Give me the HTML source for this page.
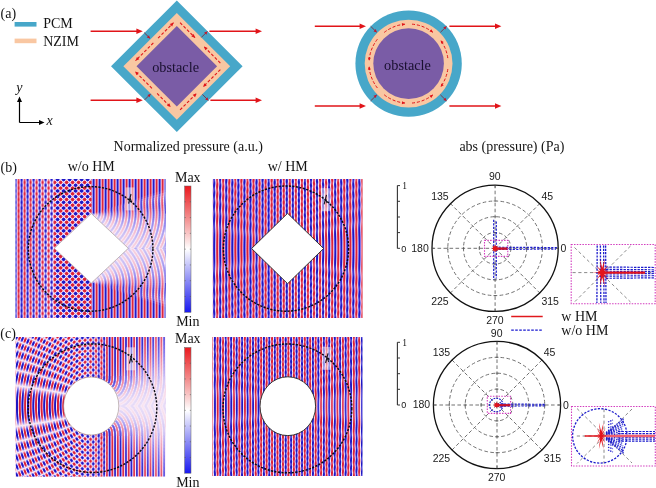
<!DOCTYPE html><html><head><meta charset="utf-8"><style>
html,body{margin:0;padding:0;background:#fff;}
body{width:656px;height:488px;overflow:hidden;position:relative;}
svg{position:absolute;left:0;top:0;will-change:transform;}
.s{font-family:"Liberation Serif",serif;}
.a{font-family:"Liberation Sans",sans-serif;}
</style></head><body>
<svg width="656" height="488" viewBox="0 0 656 488">
<defs>
<linearGradient id="gx1" gradientUnits="userSpaceOnUse" x1="0.60" y1="0" x2="6.60" y2="0" spreadMethod="repeat"><stop offset="0.0000" stop-color="#ffffff"/><stop offset="0.0625" stop-color="#f5f5f5"/><stop offset="0.1250" stop-color="#dadada"/><stop offset="0.1875" stop-color="#b0b0b0"/><stop offset="0.2500" stop-color="#808080"/><stop offset="0.3125" stop-color="#4f4f4f"/><stop offset="0.3750" stop-color="#252525"/><stop offset="0.4375" stop-color="#0a0a0a"/><stop offset="0.5000" stop-color="#000000"/><stop offset="0.5625" stop-color="#0a0a0a"/><stop offset="0.6250" stop-color="#252525"/><stop offset="0.6875" stop-color="#4f4f4f"/><stop offset="0.7500" stop-color="#7f7f7f"/><stop offset="0.8125" stop-color="#b0b0b0"/><stop offset="0.8750" stop-color="#dadada"/><stop offset="0.9375" stop-color="#f5f5f5"/><stop offset="1.0000" stop-color="#ffffff"/></linearGradient><linearGradient id="gx2" gradientUnits="userSpaceOnUse" x1="241.40" y1="0" x2="247.45" y2="0" spreadMethod="repeat"><stop offset="0.0000" stop-color="#ffffff"/><stop offset="0.0625" stop-color="#f5f5f5"/><stop offset="0.1250" stop-color="#dadada"/><stop offset="0.1875" stop-color="#b0b0b0"/><stop offset="0.2500" stop-color="#808080"/><stop offset="0.3125" stop-color="#4f4f4f"/><stop offset="0.3750" stop-color="#252525"/><stop offset="0.4375" stop-color="#0a0a0a"/><stop offset="0.5000" stop-color="#000000"/><stop offset="0.5625" stop-color="#0a0a0a"/><stop offset="0.6250" stop-color="#252525"/><stop offset="0.6875" stop-color="#4f4f4f"/><stop offset="0.7500" stop-color="#7f7f7f"/><stop offset="0.8125" stop-color="#b0b0b0"/><stop offset="0.8750" stop-color="#dadada"/><stop offset="0.9375" stop-color="#f5f5f5"/><stop offset="1.0000" stop-color="#ffffff"/></linearGradient><linearGradient id="gx3" gradientUnits="userSpaceOnUse" x1="3.35" y1="0" x2="8.80" y2="0" spreadMethod="repeat"><stop offset="0.0000" stop-color="#ffffff"/><stop offset="0.0625" stop-color="#f5f5f5"/><stop offset="0.1250" stop-color="#dadada"/><stop offset="0.1875" stop-color="#b0b0b0"/><stop offset="0.2500" stop-color="#808080"/><stop offset="0.3125" stop-color="#4f4f4f"/><stop offset="0.3750" stop-color="#252525"/><stop offset="0.4375" stop-color="#0a0a0a"/><stop offset="0.5000" stop-color="#000000"/><stop offset="0.5625" stop-color="#0a0a0a"/><stop offset="0.6250" stop-color="#252525"/><stop offset="0.6875" stop-color="#4f4f4f"/><stop offset="0.7500" stop-color="#7f7f7f"/><stop offset="0.8125" stop-color="#b0b0b0"/><stop offset="0.8750" stop-color="#dadada"/><stop offset="0.9375" stop-color="#f5f5f5"/><stop offset="1.0000" stop-color="#ffffff"/></linearGradient><linearGradient id="gx4" gradientUnits="userSpaceOnUse" x1="5.00" y1="0" x2="10.45" y2="0" spreadMethod="repeat"><stop offset="0.0000" stop-color="#ffffff"/><stop offset="0.0625" stop-color="#f5f5f5"/><stop offset="0.1250" stop-color="#dadada"/><stop offset="0.1875" stop-color="#b0b0b0"/><stop offset="0.2500" stop-color="#808080"/><stop offset="0.3125" stop-color="#4f4f4f"/><stop offset="0.3750" stop-color="#252525"/><stop offset="0.4375" stop-color="#0a0a0a"/><stop offset="0.5000" stop-color="#000000"/><stop offset="0.5625" stop-color="#0a0a0a"/><stop offset="0.6250" stop-color="#252525"/><stop offset="0.6875" stop-color="#4f4f4f"/><stop offset="0.7500" stop-color="#7f7f7f"/><stop offset="0.8125" stop-color="#b0b0b0"/><stop offset="0.8750" stop-color="#dadada"/><stop offset="0.9375" stop-color="#f5f5f5"/><stop offset="1.0000" stop-color="#ffffff"/></linearGradient><linearGradient id="gy1a" gradientUnits="userSpaceOnUse" x1="0" y1="0.00" x2="0" y2="5.70" spreadMethod="repeat"><stop offset="0.0000" stop-color="#ffffff"/><stop offset="0.0625" stop-color="#f5f5f5"/><stop offset="0.1250" stop-color="#dadada"/><stop offset="0.1875" stop-color="#b0b0b0"/><stop offset="0.2500" stop-color="#808080"/><stop offset="0.3125" stop-color="#4f4f4f"/><stop offset="0.3750" stop-color="#252525"/><stop offset="0.4375" stop-color="#0a0a0a"/><stop offset="0.5000" stop-color="#000000"/><stop offset="0.5625" stop-color="#0a0a0a"/><stop offset="0.6250" stop-color="#252525"/><stop offset="0.6875" stop-color="#4f4f4f"/><stop offset="0.7500" stop-color="#7f7f7f"/><stop offset="0.8125" stop-color="#b0b0b0"/><stop offset="0.8750" stop-color="#dadada"/><stop offset="0.9375" stop-color="#f5f5f5"/><stop offset="1.0000" stop-color="#ffffff"/></linearGradient><linearGradient id="gy1b" gradientUnits="userSpaceOnUse" x1="0" y1="2.00" x2="0" y2="7.70" spreadMethod="repeat"><stop offset="0.0000" stop-color="#ffffff"/><stop offset="0.0625" stop-color="#f5f5f5"/><stop offset="0.1250" stop-color="#dadada"/><stop offset="0.1875" stop-color="#b0b0b0"/><stop offset="0.2500" stop-color="#808080"/><stop offset="0.3125" stop-color="#4f4f4f"/><stop offset="0.3750" stop-color="#252525"/><stop offset="0.4375" stop-color="#0a0a0a"/><stop offset="0.5000" stop-color="#000000"/><stop offset="0.5625" stop-color="#0a0a0a"/><stop offset="0.6250" stop-color="#252525"/><stop offset="0.6875" stop-color="#4f4f4f"/><stop offset="0.7500" stop-color="#7f7f7f"/><stop offset="0.8125" stop-color="#b0b0b0"/><stop offset="0.8750" stop-color="#dadada"/><stop offset="0.9375" stop-color="#f5f5f5"/><stop offset="1.0000" stop-color="#ffffff"/></linearGradient><radialGradient id="gr1t" gradientUnits="userSpaceOnUse" cx="91.30" cy="213.50" r="6.00" spreadMethod="repeat"><stop offset="0.0000" stop-color="#dedede"/><stop offset="0.0625" stop-color="#b6b6b6"/><stop offset="0.1250" stop-color="#868686"/><stop offset="0.1875" stop-color="#555555"/><stop offset="0.2500" stop-color="#2a2a2a"/><stop offset="0.3125" stop-color="#0c0c0c"/><stop offset="0.3750" stop-color="#000000"/><stop offset="0.4375" stop-color="#070707"/><stop offset="0.5000" stop-color="#212121"/><stop offset="0.5625" stop-color="#494949"/><stop offset="0.6250" stop-color="#797979"/><stop offset="0.6875" stop-color="#aaaaaa"/><stop offset="0.7500" stop-color="#d5d5d5"/><stop offset="0.8125" stop-color="#f3f3f3"/><stop offset="0.8750" stop-color="#ffffff"/><stop offset="0.9375" stop-color="#f8f8f8"/><stop offset="1.0000" stop-color="#dedede"/></radialGradient><radialGradient id="gr1b" gradientUnits="userSpaceOnUse" cx="91.30" cy="283.10" r="6.00" spreadMethod="repeat"><stop offset="0.0000" stop-color="#dedede"/><stop offset="0.0625" stop-color="#b6b6b6"/><stop offset="0.1250" stop-color="#868686"/><stop offset="0.1875" stop-color="#555555"/><stop offset="0.2500" stop-color="#2a2a2a"/><stop offset="0.3125" stop-color="#0c0c0c"/><stop offset="0.3750" stop-color="#000000"/><stop offset="0.4375" stop-color="#070707"/><stop offset="0.5000" stop-color="#212121"/><stop offset="0.5625" stop-color="#494949"/><stop offset="0.6250" stop-color="#797979"/><stop offset="0.6875" stop-color="#aaaaaa"/><stop offset="0.7500" stop-color="#d5d5d5"/><stop offset="0.8125" stop-color="#f3f3f3"/><stop offset="0.8750" stop-color="#ffffff"/><stop offset="0.9375" stop-color="#f8f8f8"/><stop offset="1.0000" stop-color="#dedede"/></radialGradient><radialGradient id="gr3c" gradientUnits="userSpaceOnUse" cx="91.20" cy="406.00" r="5.45" spreadMethod="repeat"><stop offset="0.0000" stop-color="#dddddd"/><stop offset="0.0625" stop-color="#f7f7f7"/><stop offset="0.1250" stop-color="#ffffff"/><stop offset="0.1875" stop-color="#f3f3f3"/><stop offset="0.2500" stop-color="#d6d6d6"/><stop offset="0.3125" stop-color="#acacac"/><stop offset="0.3750" stop-color="#7b7b7b"/><stop offset="0.4375" stop-color="#4a4a4a"/><stop offset="0.5000" stop-color="#222222"/><stop offset="0.5625" stop-color="#080808"/><stop offset="0.6250" stop-color="#000000"/><stop offset="0.6875" stop-color="#0c0c0c"/><stop offset="0.7500" stop-color="#292929"/><stop offset="0.8125" stop-color="#535353"/><stop offset="0.8750" stop-color="#848484"/><stop offset="0.9375" stop-color="#b5b5b5"/><stop offset="1.0000" stop-color="#dddddd"/></radialGradient><radialGradient id="gr3t" gradientUnits="userSpaceOnUse" cx="91.20" cy="377.00" r="5.45" spreadMethod="repeat"><stop offset="0.0000" stop-color="#dddddd"/><stop offset="0.0625" stop-color="#b5b5b5"/><stop offset="0.1250" stop-color="#848484"/><stop offset="0.1875" stop-color="#535353"/><stop offset="0.2500" stop-color="#292929"/><stop offset="0.3125" stop-color="#0c0c0c"/><stop offset="0.3750" stop-color="#000000"/><stop offset="0.4375" stop-color="#080808"/><stop offset="0.5000" stop-color="#222222"/><stop offset="0.5625" stop-color="#4a4a4a"/><stop offset="0.6250" stop-color="#7b7b7b"/><stop offset="0.6875" stop-color="#acacac"/><stop offset="0.7500" stop-color="#d6d6d6"/><stop offset="0.8125" stop-color="#f3f3f3"/><stop offset="0.8750" stop-color="#ffffff"/><stop offset="0.9375" stop-color="#f7f7f7"/><stop offset="1.0000" stop-color="#dddddd"/></radialGradient><radialGradient id="gr3b" gradientUnits="userSpaceOnUse" cx="91.20" cy="435.00" r="5.45" spreadMethod="repeat"><stop offset="0.0000" stop-color="#dddddd"/><stop offset="0.0625" stop-color="#b5b5b5"/><stop offset="0.1250" stop-color="#848484"/><stop offset="0.1875" stop-color="#535353"/><stop offset="0.2500" stop-color="#292929"/><stop offset="0.3125" stop-color="#0c0c0c"/><stop offset="0.3750" stop-color="#000000"/><stop offset="0.4375" stop-color="#080808"/><stop offset="0.5000" stop-color="#222222"/><stop offset="0.5625" stop-color="#4a4a4a"/><stop offset="0.6250" stop-color="#7b7b7b"/><stop offset="0.6875" stop-color="#acacac"/><stop offset="0.7500" stop-color="#d6d6d6"/><stop offset="0.8125" stop-color="#f3f3f3"/><stop offset="0.8750" stop-color="#ffffff"/><stop offset="0.9375" stop-color="#f7f7f7"/><stop offset="1.0000" stop-color="#dddddd"/></radialGradient><radialGradient id="gr4c" gradientUnits="userSpaceOnUse" cx="287.80" cy="406.20" r="5.45" spreadMethod="repeat"><stop offset="0.0000" stop-color="#585858"/><stop offset="0.0625" stop-color="#2d2d2d"/><stop offset="0.1250" stop-color="#0e0e0e"/><stop offset="0.1875" stop-color="#000000"/><stop offset="0.2500" stop-color="#060606"/><stop offset="0.3125" stop-color="#1f1f1f"/><stop offset="0.3750" stop-color="#464646"/><stop offset="0.4375" stop-color="#757575"/><stop offset="0.5000" stop-color="#a7a7a7"/><stop offset="0.5625" stop-color="#d2d2d2"/><stop offset="0.6250" stop-color="#f1f1f1"/><stop offset="0.6875" stop-color="#ffffff"/><stop offset="0.7500" stop-color="#f9f9f9"/><stop offset="0.8125" stop-color="#e0e0e0"/><stop offset="0.8750" stop-color="#b9b9b9"/><stop offset="0.9375" stop-color="#8a8a8a"/><stop offset="1.0000" stop-color="#585858"/></radialGradient><radialGradient id="gr2c" gradientUnits="userSpaceOnUse" cx="287.60" cy="248.50" r="6.00" spreadMethod="repeat"><stop offset="0.0000" stop-color="#585858"/><stop offset="0.0625" stop-color="#2d2d2d"/><stop offset="0.1250" stop-color="#0e0e0e"/><stop offset="0.1875" stop-color="#000000"/><stop offset="0.2500" stop-color="#060606"/><stop offset="0.3125" stop-color="#1f1f1f"/><stop offset="0.3750" stop-color="#464646"/><stop offset="0.4375" stop-color="#757575"/><stop offset="0.5000" stop-color="#a7a7a7"/><stop offset="0.5625" stop-color="#d2d2d2"/><stop offset="0.6250" stop-color="#f1f1f1"/><stop offset="0.6875" stop-color="#ffffff"/><stop offset="0.7500" stop-color="#f9f9f9"/><stop offset="0.8125" stop-color="#e0e0e0"/><stop offset="0.8750" stop-color="#b9b9b9"/><stop offset="0.9375" stop-color="#8a8a8a"/><stop offset="1.0000" stop-color="#585858"/></radialGradient><filter id="cm1" filterUnits="userSpaceOnUse" x="15.5" y="179.0" width="150.0" height="139.0" color-interpolation-filters="sRGB"><feComponentTransfer><feFuncR type="table" tableValues="0.118 0.153 0.188 0.223 0.258 0.293 0.328 0.363 0.398 0.433 0.468 0.503 0.539 0.577 0.616 0.654 0.693 0.731 0.769 0.808 0.846 0.884 0.923 0.961 0.979 0.975 0.972 0.969 0.965 0.962 0.959 0.955 0.952 0.949 0.945 0.942 0.936 0.928 0.921 0.914 0.906 0.899 0.892 0.884 0.877 0.870 0.862 0.855"/><feFuncG type="table" tableValues="0.094 0.128 0.162 0.195 0.229 0.263 0.296 0.330 0.364 0.397 0.431 0.465 0.500 0.537 0.575 0.613 0.650 0.688 0.726 0.764 0.801 0.839 0.877 0.914 0.916 0.882 0.847 0.813 0.779 0.744 0.710 0.676 0.641 0.607 0.572 0.538 0.505 0.472 0.439 0.406 0.372 0.339 0.306 0.273 0.240 0.207 0.174 0.141"/><feFuncB type="table" tableValues="0.765 0.779 0.793 0.808 0.822 0.836 0.851 0.865 0.880 0.894 0.908 0.923 0.934 0.938 0.942 0.946 0.950 0.954 0.958 0.962 0.966 0.970 0.974 0.978 0.965 0.935 0.905 0.875 0.845 0.815 0.785 0.755 0.725 0.695 0.665 0.635 0.601 0.567 0.532 0.497 0.463 0.428 0.393 0.358 0.324 0.289 0.254 0.220"/></feComponentTransfer><feGaussianBlur stdDeviation="0.70"/></filter><filter id="cm2" filterUnits="userSpaceOnUse" x="212.5" y="179.0" width="150.0" height="139.0" color-interpolation-filters="sRGB"><feComponentTransfer><feFuncR type="table" tableValues="0.118 0.118 0.118 0.118 0.155 0.196 0.236 0.276 0.317 0.357 0.397 0.437 0.478 0.518 0.561 0.605 0.649 0.693 0.738 0.782 0.826 0.870 0.914 0.958 0.978 0.975 0.971 0.967 0.963 0.959 0.955 0.952 0.948 0.944 0.939 0.930 0.922 0.913 0.905 0.897 0.888 0.880 0.871 0.863 0.855 0.855 0.855 0.855"/><feFuncG type="table" tableValues="0.094 0.094 0.094 0.094 0.130 0.169 0.208 0.247 0.285 0.324 0.363 0.402 0.440 0.479 0.521 0.565 0.608 0.651 0.695 0.738 0.782 0.825 0.868 0.912 0.914 0.874 0.835 0.795 0.755 0.716 0.676 0.637 0.597 0.558 0.519 0.481 0.443 0.405 0.367 0.329 0.291 0.253 0.215 0.177 0.141 0.141 0.141 0.141"/><feFuncB type="table" tableValues="0.765 0.765 0.765 0.765 0.780 0.797 0.813 0.830 0.846 0.863 0.879 0.896 0.912 0.929 0.937 0.941 0.946 0.950 0.955 0.960 0.964 0.969 0.973 0.978 0.963 0.929 0.894 0.859 0.825 0.790 0.756 0.721 0.687 0.652 0.616 0.576 0.536 0.496 0.457 0.417 0.377 0.337 0.297 0.257 0.220 0.220 0.220 0.220"/></feComponentTransfer><feGaussianBlur stdDeviation="0.70"/></filter><filter id="cm3" filterUnits="userSpaceOnUse" x="15.5" y="337.0" width="150.0" height="139.5" color-interpolation-filters="sRGB"><feComponentTransfer><feFuncR type="table" tableValues="0.118 0.153 0.188 0.223 0.258 0.293 0.328 0.363 0.398 0.433 0.468 0.503 0.539 0.577 0.616 0.654 0.693 0.731 0.769 0.808 0.846 0.884 0.923 0.961 0.979 0.975 0.972 0.969 0.965 0.962 0.959 0.955 0.952 0.949 0.945 0.942 0.936 0.928 0.921 0.914 0.906 0.899 0.892 0.884 0.877 0.870 0.862 0.855"/><feFuncG type="table" tableValues="0.094 0.128 0.162 0.195 0.229 0.263 0.296 0.330 0.364 0.397 0.431 0.465 0.500 0.537 0.575 0.613 0.650 0.688 0.726 0.764 0.801 0.839 0.877 0.914 0.916 0.882 0.847 0.813 0.779 0.744 0.710 0.676 0.641 0.607 0.572 0.538 0.505 0.472 0.439 0.406 0.372 0.339 0.306 0.273 0.240 0.207 0.174 0.141"/><feFuncB type="table" tableValues="0.765 0.779 0.793 0.808 0.822 0.836 0.851 0.865 0.880 0.894 0.908 0.923 0.934 0.938 0.942 0.946 0.950 0.954 0.958 0.962 0.966 0.970 0.974 0.978 0.965 0.935 0.905 0.875 0.845 0.815 0.785 0.755 0.725 0.695 0.665 0.635 0.601 0.567 0.532 0.497 0.463 0.428 0.393 0.358 0.324 0.289 0.254 0.220"/></feComponentTransfer><feGaussianBlur stdDeviation="0.70"/></filter><filter id="cm4" filterUnits="userSpaceOnUse" x="212.5" y="337.0" width="150.0" height="139.0" color-interpolation-filters="sRGB"><feComponentTransfer><feFuncR type="table" tableValues="0.118 0.118 0.118 0.118 0.121 0.163 0.205 0.247 0.289 0.331 0.373 0.416 0.458 0.500 0.543 0.589 0.635 0.681 0.727 0.773 0.819 0.865 0.911 0.957 0.978 0.974 0.970 0.966 0.962 0.958 0.954 0.950 0.946 0.942 0.935 0.926 0.917 0.909 0.900 0.891 0.882 0.873 0.864 0.856 0.855 0.855 0.855 0.855"/><feFuncG type="table" tableValues="0.094 0.094 0.094 0.094 0.097 0.138 0.178 0.219 0.259 0.300 0.340 0.381 0.421 0.462 0.503 0.549 0.594 0.639 0.684 0.730 0.775 0.820 0.865 0.911 0.913 0.871 0.830 0.789 0.748 0.706 0.665 0.624 0.583 0.541 0.501 0.462 0.422 0.382 0.343 0.303 0.263 0.224 0.184 0.144 0.141 0.141 0.141 0.141"/><feFuncB type="table" tableValues="0.765 0.765 0.765 0.765 0.766 0.783 0.801 0.818 0.835 0.852 0.869 0.887 0.904 0.921 0.935 0.940 0.944 0.949 0.954 0.959 0.964 0.968 0.973 0.978 0.962 0.926 0.890 0.854 0.818 0.782 0.746 0.710 0.674 0.638 0.598 0.556 0.515 0.473 0.431 0.390 0.348 0.306 0.265 0.223 0.220 0.220 0.220 0.220"/></feComponentTransfer><feGaussianBlur stdDeviation="0.70"/></filter><filter id="cm3h" filterUnits="userSpaceOnUse" x="15.5" y="337.0" width="150.0" height="139.5" color-interpolation-filters="sRGB"><feComponentTransfer><feFuncR type="table" tableValues="0.118 0.118 0.118 0.118 0.118 0.131 0.175 0.218 0.262 0.306 0.350 0.394 0.437 0.481 0.525 0.573 0.621 0.669 0.717 0.764 0.812 0.860 0.908 0.956 0.978 0.974 0.970 0.966 0.962 0.957 0.953 0.949 0.945 0.940 0.931 0.922 0.913 0.904 0.894 0.885 0.876 0.867 0.858 0.855 0.855 0.855 0.855 0.855"/><feFuncG type="table" tableValues="0.094 0.094 0.094 0.094 0.094 0.107 0.149 0.191 0.233 0.275 0.317 0.360 0.402 0.444 0.486 0.533 0.580 0.627 0.674 0.721 0.768 0.815 0.863 0.910 0.912 0.869 0.826 0.783 0.740 0.697 0.654 0.611 0.568 0.525 0.484 0.443 0.401 0.360 0.319 0.277 0.236 0.195 0.154 0.141 0.141 0.141 0.141 0.141"/><feFuncB type="table" tableValues="0.765 0.765 0.765 0.765 0.765 0.770 0.788 0.806 0.824 0.842 0.860 0.878 0.896 0.914 0.932 0.938 0.943 0.948 0.953 0.958 0.963 0.968 0.973 0.978 0.962 0.924 0.887 0.849 0.811 0.774 0.736 0.699 0.661 0.623 0.580 0.536 0.493 0.450 0.406 0.363 0.319 0.276 0.233 0.220 0.220 0.220 0.220 0.220"/></feComponentTransfer><feGaussianBlur stdDeviation="0.70"/></filter><filter id="cmc" filterUnits="userSpaceOnUse" x="15.5" y="179.0" width="150.0" height="139.0" color-interpolation-filters="sRGB"><feComponentTransfer><feFuncR type="table" tableValues="0.118 0.118 0.118 0.118 0.118 0.118 0.118 0.118 0.118 0.118 0.137 0.196 0.256 0.316 0.375 0.435 0.494 0.556 0.622 0.687 0.752 0.817 0.883 0.948 0.978 0.972 0.966 0.961 0.955 0.949 0.944 0.934 0.921 0.909 0.896 0.884 0.871 0.859 0.855 0.855 0.855 0.855 0.855 0.855 0.855 0.855 0.855 0.855"/><feFuncG type="table" tableValues="0.094 0.094 0.094 0.094 0.094 0.094 0.094 0.094 0.094 0.094 0.113 0.170 0.227 0.285 0.342 0.399 0.456 0.517 0.581 0.645 0.709 0.773 0.837 0.901 0.904 0.846 0.787 0.729 0.670 0.612 0.553 0.496 0.440 0.384 0.328 0.272 0.216 0.159 0.141 0.141 0.141 0.141 0.141 0.141 0.141 0.141 0.141 0.141"/><feFuncB type="table" tableValues="0.765 0.765 0.765 0.765 0.765 0.765 0.765 0.765 0.765 0.765 0.773 0.797 0.821 0.846 0.870 0.895 0.919 0.936 0.943 0.950 0.957 0.963 0.970 0.977 0.955 0.904 0.853 0.802 0.751 0.700 0.648 0.593 0.534 0.475 0.416 0.357 0.298 0.239 0.220 0.220 0.220 0.220 0.220 0.220 0.220 0.220 0.220 0.220"/></feComponentTransfer><feGaussianBlur stdDeviation="0.70"/></filter><linearGradient id="gcb" x1="0" y1="0" x2="0" y2="1"><stop offset="0.000" stop-color="#eb191e"/><stop offset="0.050" stop-color="#ec3034"/><stop offset="0.100" stop-color="#ee474a"/><stop offset="0.150" stop-color="#ef5e60"/><stop offset="0.200" stop-color="#f17576"/><stop offset="0.250" stop-color="#f28c8c"/><stop offset="0.300" stop-color="#f5a3a3"/><stop offset="0.350" stop-color="#f7baba"/><stop offset="0.400" stop-color="#fad1d1"/><stop offset="0.450" stop-color="#fce8e8"/><stop offset="0.500" stop-color="#ffffff"/><stop offset="0.550" stop-color="#e8e8fd"/><stop offset="0.600" stop-color="#d1d1fb"/><stop offset="0.650" stop-color="#babaf9"/><stop offset="0.700" stop-color="#a3a3f7"/><stop offset="0.750" stop-color="#8c8cf5"/><stop offset="0.800" stop-color="#7575f4"/><stop offset="0.850" stop-color="#5e5ef3"/><stop offset="0.900" stop-color="#4747f2"/><stop offset="0.950" stop-color="#3030f1"/><stop offset="1.000" stop-color="#1919f0"/></linearGradient><linearGradient id="fadeL" gradientUnits="userSpaceOnUse" x1="15" y1="0" x2="56" y2="0"><stop offset="0" stop-color="#333"/><stop offset="1" stop-color="#fff"/></linearGradient><mask id="mL" maskUnits="userSpaceOnUse" x="0" y="0" width="656" height="488"><rect x="15" y="179" width="41" height="139" fill="url(#fadeL)"/></mask><clipPath id="c1up"><polygon points="91.30,213.50 165.50,213.50 165.50,248.30 128.30,248.30"/></clipPath><clipPath id="c1dn"><polygon points="91.30,283.10 165.50,283.10 165.50,248.30 128.30,248.30"/></clipPath><clipPath id="c1chk"><rect x="54.30" y="179.00" width="37.00" height="139.00"/></clipPath><clipPath id="c3up"><polygon points="91.20,376.00 166.50,376.00 166.50,406.00 118.80,406.00"/></clipPath><clipPath id="c3dn"><polygon points="91.20,436.00 166.50,436.00 166.50,406.00 118.80,406.00"/></clipPath><linearGradient id="fade3" gradientUnits="userSpaceOnUse" x1="78.2" y1="0" x2="108.2" y2="0"><stop offset="0" stop-color="#fff"/><stop offset="1" stop-color="#000"/></linearGradient><mask id="m3" maskUnits="userSpaceOnUse" x="0" y="0" width="656" height="488"><rect x="15.50" y="337.00" width="150.00" height="139.50" fill="url(#fade3)"/></mask><clipPath id="h1u"><rect x="15.50" y="179.00" width="150.00" height="69.30"/></clipPath><clipPath id="h1d"><rect x="15.50" y="248.30" width="150.00" height="69.70"/></clipPath><clipPath id="h3u"><rect x="15.50" y="337.00" width="150.00" height="69.00"/></clipPath><clipPath id="h3d"><rect x="15.50" y="406.00" width="150.00" height="70.50"/></clipPath></defs>
<g filter="url(#cm1)"><rect x="15.5" y="179.0" width="150.0" height="139.0" fill="url(#gx1)"/><rect x="15" y="179.0" width="41" height="139.0" fill="url(#gy1a)" opacity="0.32" mask="url(#mL)"/><g clip-path="url(#c1up)"><rect x="15.5" y="179.0" width="150.0" height="139.0" fill="url(#gr1t)"/></g><g clip-path="url(#c1dn)"><rect x="15.5" y="179.0" width="150.0" height="139.0" fill="url(#gr1b)"/></g><g clip-path="url(#h1u)"><polygon points="91.30,213.50 281.51,151.70 288.84,182.21 291.30,213.50" fill="url(#gr1t)" fill-opacity="0.050"/><polygon points="91.30,213.50 283.55,158.37 289.35,185.67 291.30,213.50" fill="url(#gr1t)" fill-opacity="0.105"/><polygon points="91.30,213.50 285.36,165.12 289.81,189.13 291.30,213.50" fill="url(#gr1t)" fill-opacity="0.118"/><polygon points="91.30,213.50 286.93,171.92 290.20,192.59 291.30,213.50" fill="url(#gr1t)" fill-opacity="0.133"/><polygon points="91.30,213.50 288.26,178.77 290.54,196.07 291.30,213.50" fill="url(#gr1t)" fill-opacity="0.154"/><polygon points="91.30,213.50 289.35,185.67 291.30,213.50" fill="url(#gr1t)" fill-opacity="0.242"/><polygon points="91.30,213.50 290.20,192.59 291.30,213.50" fill="url(#gr1t)" fill-opacity="0.320"/><polygon points="91.30,213.50 290.81,199.55 291.30,213.50" fill="url(#gr1t)" fill-opacity="0.471"/><polygon points="91.30,213.50 291.18,206.52 291.30,213.50" fill="url(#gr1t)" fill-opacity="0.662"/></g><g clip-path="url(#h1d)"><polygon points="91.30,283.10 281.51,344.90 288.84,314.39 291.30,283.10" fill="url(#gr1b)" fill-opacity="0.050"/><polygon points="91.30,283.10 283.55,338.23 289.35,310.93 291.30,283.10" fill="url(#gr1b)" fill-opacity="0.105"/><polygon points="91.30,283.10 285.36,331.48 289.81,307.47 291.30,283.10" fill="url(#gr1b)" fill-opacity="0.118"/><polygon points="91.30,283.10 286.93,324.68 290.20,304.01 291.30,283.10" fill="url(#gr1b)" fill-opacity="0.133"/><polygon points="91.30,283.10 288.26,317.83 290.54,300.53 291.30,283.10" fill="url(#gr1b)" fill-opacity="0.154"/><polygon points="91.30,283.10 289.35,310.93 291.30,283.10" fill="url(#gr1b)" fill-opacity="0.242"/><polygon points="91.30,283.10 290.20,304.01 291.30,283.10" fill="url(#gr1b)" fill-opacity="0.320"/><polygon points="91.30,283.10 290.81,297.05 291.30,283.10" fill="url(#gr1b)" fill-opacity="0.471"/><polygon points="91.30,283.10 291.18,290.08 291.30,283.10" fill="url(#gr1b)" fill-opacity="0.662"/></g><g clip-path="url(#h1u)"><polygon points="91.30,213.50 281.51,151.70 289.26,185.04 291.22,219.21 287.32,253.22 277.67,286.06 262.57,316.78 242.45,344.47 217.90,368.33 189.65,387.65 158.51,401.87 125.40,410.57 91.30,413.50" fill="#808080" fill-opacity="0.017"/><polygon points="91.30,213.50 283.55,158.37 290.07,191.33 290.97,224.92 286.25,258.18 276.02,290.18 260.57,320.02 240.35,346.85 215.93,369.92 187.98,388.58 157.31,402.29 124.78,410.68 91.30,413.50" fill="#808080" fill-opacity="0.034"/><polygon points="91.30,213.50 285.36,165.12 290.67,197.65 290.57,230.62 285.05,263.12 274.27,294.27 258.51,323.22 238.22,349.20 213.93,371.49 186.31,389.49 156.11,402.71 124.15,410.78 91.30,413.50" fill="#808080" fill-opacity="0.035"/><polygon points="91.30,213.50 286.93,171.92 291.07,203.98 290.00,236.30 283.73,268.02 272.43,298.31 256.39,326.39 236.05,351.52 211.92,373.04 184.63,390.39 154.91,403.11 123.53,410.89 91.30,413.50" fill="#808080" fill-opacity="0.036"/><polygon points="91.30,213.50 288.26,178.77 291.27,210.33 289.26,241.96 282.28,272.88 270.50,302.31 254.22,329.51 233.84,353.79 209.88,374.55 182.95,391.27 153.71,403.51 122.90,410.99 91.30,413.50" fill="#808080" fill-opacity="0.038"/><polygon points="91.30,213.50 289.35,185.67 291.20,219.78 287.22,253.72 277.51,286.48 262.37,317.11 242.24,344.71 217.71,368.49 189.48,387.74 158.39,401.91 125.34,410.58 91.30,413.50" fill="#808080" fill-opacity="0.039"/><polygon points="91.30,213.50 290.20,192.59 290.91,226.06 286.02,259.17 275.67,291.00 260.17,320.67 239.93,347.33 215.53,370.24 187.65,388.76 157.07,402.38 124.65,410.70 91.30,413.50" fill="#808080" fill-opacity="0.057"/><polygon points="91.30,213.50 290.81,199.55 290.41,232.32 284.66,264.59 273.72,295.48 257.88,324.18 237.57,349.90 213.33,371.96 185.81,389.76 155.75,402.83 123.97,410.81 91.30,413.50" fill="#808080" fill-opacity="0.078"/><polygon points="91.30,213.50 291.18,206.52 289.72,238.57 283.16,269.97 271.67,299.92 255.53,327.64 235.17,352.43 211.10,373.65 183.96,390.74 154.43,403.28 123.28,410.93 91.30,413.50" fill="#808080" fill-opacity="0.085"/><polygon points="91.30,213.50 291.30,213.50 288.84,244.79 281.51,275.30 269.50,304.30 253.10,331.06 232.72,354.92 208.86,375.30 182.10,391.70 153.10,403.71 122.59,411.04 91.30,413.50" fill="#808080" fill-opacity="0.080"/><polygon points="91.30,213.50 291.18,220.48 287.09,254.32 277.31,286.98 262.13,317.50 241.99,345.00 217.47,368.68 189.28,387.86 158.24,401.96 125.27,410.59 91.30,413.50" fill="#808080" fill-opacity="0.074"/><polygon points="91.30,213.50 290.81,227.45 285.73,260.38 275.25,292.00 259.66,321.45 239.41,347.90 215.04,370.62 187.24,388.99 156.78,402.48 124.50,410.73 91.30,413.50" fill="#808080" fill-opacity="0.079"/><polygon points="91.30,213.50 290.20,234.41 284.18,266.39 273.05,296.97 257.11,325.34 236.77,350.75 212.59,372.52 185.19,390.09 155.31,402.98 123.74,410.85 91.30,413.50" fill="#808080" fill-opacity="0.086"/><polygon points="91.30,213.50 289.35,241.33 282.45,272.35 270.72,301.87 254.46,329.17 234.09,353.54 210.11,374.39 183.13,391.17 153.84,403.47 122.97,410.98 91.30,413.50" fill="#808080" fill-opacity="0.094"/><polygon points="91.30,213.50 288.26,248.23 280.53,278.25 268.25,306.71 251.72,332.93 231.34,356.29 207.60,376.21 181.06,392.23 152.37,403.95 122.20,411.10 91.30,413.50" fill="#808080" fill-opacity="0.081"/><polygon points="91.30,213.50 286.93,255.08 277.06,287.61 261.83,318.00 241.67,345.37 217.16,368.93 189.02,388.00 158.06,402.03 125.17,410.61 91.30,413.50" fill="#808080" fill-opacity="0.062"/><polygon points="91.30,213.50 285.36,261.88 274.71,293.25 259.03,322.43 238.76,348.62 214.43,371.10 186.73,389.26 156.41,402.60 124.31,410.76 91.30,413.50" fill="#808080" fill-opacity="0.066"/><polygon points="91.30,213.50 283.55,268.63 272.19,298.81 256.13,326.78 235.77,351.80 211.66,373.23 184.42,390.50 154.76,403.16 123.45,410.90 91.30,413.50" fill="#808080" fill-opacity="0.071"/><polygon points="91.30,213.50 281.51,275.30 269.50,304.30 253.10,331.06 232.72,354.92 208.86,375.30 182.10,391.70 153.10,403.71 122.59,411.04 91.30,413.50" fill="#808080" fill-opacity="0.076"/><polygon points="91.30,213.50 279.24,281.90 266.65,309.70 249.97,335.25 229.60,357.97 206.02,377.33 179.76,392.87 151.44,404.24 121.72,411.17 91.30,413.50" fill="#808080" fill-opacity="0.068"/><polygon points="91.30,213.50 276.74,288.42 261.44,318.64 241.26,345.84 216.78,369.24 188.70,388.18 157.83,402.11 125.05,410.63 91.30,413.50" fill="#808080" fill-opacity="0.059"/><polygon points="91.30,213.50 274.01,294.85 258.21,323.68 237.91,349.53 213.64,371.71 186.07,389.62 155.94,402.77 124.06,410.80 91.30,413.50" fill="#808080" fill-opacity="0.062"/><polygon points="91.30,213.50 271.06,301.17 254.84,328.62 234.47,353.15 210.46,374.12 183.43,391.02 154.05,403.40 123.08,410.96 91.30,413.50" fill="#808080" fill-opacity="0.067"/><polygon points="91.30,213.50 267.89,307.39 251.33,333.46 230.95,356.67 207.24,376.47 180.76,392.38 152.15,404.02 122.09,411.12 91.30,413.50" fill="#808080" fill-opacity="0.071"/><polygon points="91.30,213.50 264.51,313.50 247.67,338.20 227.33,360.11 203.96,378.75 178.08,393.69 150.25,404.61 121.11,411.27 91.30,413.50" fill="#808080" fill-opacity="0.058"/><polygon points="91.30,213.50 260.91,319.48 240.71,346.46 216.26,369.66 188.26,388.42 157.51,402.22 124.88,410.66 91.30,413.50" fill="#808080" fill-opacity="0.041"/><polygon points="91.30,213.50 257.11,325.34 236.77,350.75 212.59,372.52 185.19,390.09 155.31,402.98 123.74,410.85 91.30,413.50" fill="#808080" fill-opacity="0.043"/><polygon points="91.30,213.50 253.10,331.06 232.72,354.92 208.86,375.30 182.10,391.70 153.10,403.71 122.59,411.04 91.30,413.50" fill="#808080" fill-opacity="0.044"/><polygon points="91.30,213.50 248.90,336.63 228.55,358.97 205.06,378.00 178.97,393.26 150.89,404.42 121.44,411.22 91.30,413.50" fill="#808080" fill-opacity="0.047"/><polygon points="91.30,213.50 244.51,342.06 224.26,362.91 201.20,380.60 175.82,394.76 148.66,405.10 120.29,411.39 91.30,413.50" fill="#808080" fill-opacity="0.049"/><polygon points="91.30,213.50 239.93,347.33 215.53,370.24 187.65,388.76 157.07,402.38 124.65,410.70 91.30,413.50" fill="#808080" fill-opacity="0.051"/><polygon points="91.30,213.50 235.17,352.43 211.10,373.65 183.96,390.74 154.43,403.28 123.28,410.93 91.30,413.50" fill="#808080" fill-opacity="0.054"/><polygon points="91.30,213.50 230.23,357.37 206.59,376.93 180.23,392.64 151.77,404.14 121.90,411.15 91.30,413.50" fill="#808080" fill-opacity="0.013"/><polygon points="91.30,213.50 225.13,362.13 201.98,380.08 176.46,394.47 149.11,404.96 120.52,411.35 91.30,413.50" fill="#808080" fill-opacity="0.013"/><polygon points="91.30,213.50 219.86,366.71 197.28,383.11 172.65,396.21 146.43,405.75 119.13,411.55 91.30,413.50" fill="#808080" fill-opacity="0.013"/><polygon points="91.30,213.50 214.43,371.10 186.73,389.26 156.41,402.60 124.31,410.76 91.30,413.50" fill="#808080" fill-opacity="0.013"/><polygon points="91.30,213.50 208.86,375.30 182.10,391.70 153.10,403.71 122.59,411.04 91.30,413.50" fill="#808080" fill-opacity="0.013"/><polygon points="91.30,213.50 203.14,379.31 177.40,394.02 149.77,404.76 120.86,411.30 91.30,413.50" fill="#808080" fill-opacity="0.014"/><polygon points="91.30,213.50 197.28,383.11 172.65,396.21 146.43,405.75 119.13,411.55 91.30,413.50" fill="#808080" fill-opacity="0.014"/><polygon points="91.30,213.50 191.30,386.71 167.84,398.28 143.06,406.69 117.41,411.79 91.30,413.50" fill="#808080" fill-opacity="0.014"/><polygon points="91.30,213.50 185.19,390.09 155.31,402.98 123.74,410.85 91.30,413.50" fill="#808080" fill-opacity="0.014"/><polygon points="91.30,213.50 178.97,393.26 150.89,404.42 121.44,411.22 91.30,413.50" fill="#808080" fill-opacity="0.014"/><polygon points="91.30,213.50 172.65,396.21 146.43,405.75 119.13,411.55 91.30,413.50" fill="#808080" fill-opacity="0.015"/><polygon points="91.30,213.50 166.22,398.94 141.94,406.98 116.83,411.86 91.30,413.50" fill="#808080" fill-opacity="0.015"/><polygon points="91.30,213.50 159.70,401.44 137.42,408.11 114.52,412.15 91.30,413.50" fill="#808080" fill-opacity="0.015"/><polygon points="91.30,213.50 153.10,403.71 122.59,411.04 91.30,413.50" fill="#808080" fill-opacity="0.015"/><polygon points="91.30,213.50 146.43,405.75 119.13,411.55 91.30,413.50" fill="#808080" fill-opacity="0.015"/><polygon points="91.30,213.50 139.68,407.56 115.67,412.01 91.30,413.50" fill="#808080" fill-opacity="0.016"/><polygon points="91.30,213.50 132.88,409.13 112.21,412.40 91.30,413.50" fill="#808080" fill-opacity="0.016"/><polygon points="91.30,213.50 126.03,410.46 108.73,412.74 91.30,413.50" fill="#808080" fill-opacity="0.016"/><polygon points="91.30,213.50 119.13,411.55 91.30,413.50" fill="#808080" fill-opacity="0.016"/><polygon points="91.30,213.50 112.21,412.40 91.30,413.50" fill="#808080" fill-opacity="0.017"/><polygon points="91.30,213.50 105.25,413.01 91.30,413.50" fill="#808080" fill-opacity="0.017"/><polygon points="91.30,213.50 98.28,413.38 91.30,413.50" fill="#808080" fill-opacity="0.017"/></g><g clip-path="url(#h1d)"><polygon points="91.30,283.10 281.51,344.90 289.26,311.56 291.22,277.39 287.32,243.38 277.67,210.54 262.57,179.82 242.45,152.13 217.90,128.27 189.65,108.95 158.51,94.73 125.40,86.03 91.30,83.10" fill="#808080" fill-opacity="0.017"/><polygon points="91.30,283.10 283.55,338.23 290.07,305.27 290.97,271.68 286.25,238.42 276.02,206.42 260.57,176.58 240.35,149.75 215.93,126.68 187.98,108.02 157.31,94.31 124.78,85.92 91.30,83.10" fill="#808080" fill-opacity="0.034"/><polygon points="91.30,283.10 285.36,331.48 290.67,298.95 290.57,265.98 285.05,233.48 274.27,202.33 258.51,173.38 238.22,147.40 213.93,125.11 186.31,107.11 156.11,93.89 124.15,85.82 91.30,83.10" fill="#808080" fill-opacity="0.035"/><polygon points="91.30,283.10 286.93,324.68 291.07,292.62 290.00,260.30 283.73,228.58 272.43,198.29 256.39,170.21 236.05,145.08 211.92,123.56 184.63,106.21 154.91,93.49 123.53,85.71 91.30,83.10" fill="#808080" fill-opacity="0.036"/><polygon points="91.30,283.10 288.26,317.83 291.27,286.27 289.26,254.64 282.28,223.72 270.50,194.29 254.22,167.09 233.84,142.81 209.88,122.05 182.95,105.33 153.71,93.09 122.90,85.61 91.30,83.10" fill="#808080" fill-opacity="0.038"/><polygon points="91.30,283.10 289.35,310.93 291.20,276.82 287.22,242.88 277.51,210.12 262.37,179.49 242.24,151.89 217.71,128.11 189.48,108.86 158.39,94.69 125.34,86.02 91.30,83.10" fill="#808080" fill-opacity="0.039"/><polygon points="91.30,283.10 290.20,304.01 290.91,270.54 286.02,237.43 275.67,205.60 260.17,175.93 239.93,149.27 215.53,126.36 187.65,107.84 157.07,94.22 124.65,85.90 91.30,83.10" fill="#808080" fill-opacity="0.057"/><polygon points="91.30,283.10 290.81,297.05 290.41,264.28 284.66,232.01 273.72,201.12 257.88,172.42 237.57,146.70 213.33,124.64 185.81,106.84 155.75,93.77 123.97,85.79 91.30,83.10" fill="#808080" fill-opacity="0.078"/><polygon points="91.30,283.10 291.18,290.08 289.72,258.03 283.16,226.63 271.67,196.68 255.53,168.96 235.17,144.17 211.10,122.95 183.96,105.86 154.43,93.32 123.28,85.67 91.30,83.10" fill="#808080" fill-opacity="0.085"/><polygon points="91.30,283.10 291.30,283.10 288.84,251.81 281.51,221.30 269.50,192.30 253.10,165.54 232.72,141.68 208.86,121.30 182.10,104.90 153.10,92.89 122.59,85.56 91.30,83.10" fill="#808080" fill-opacity="0.080"/><polygon points="91.30,283.10 291.18,276.12 287.09,242.28 277.31,209.62 262.13,179.10 241.99,151.60 217.47,127.92 189.28,108.74 158.24,94.64 125.27,86.01 91.30,83.10" fill="#808080" fill-opacity="0.074"/><polygon points="91.30,283.10 290.81,269.15 285.73,236.22 275.25,204.60 259.66,175.15 239.41,148.70 215.04,125.98 187.24,107.61 156.78,94.12 124.50,85.87 91.30,83.10" fill="#808080" fill-opacity="0.079"/><polygon points="91.30,283.10 290.20,262.19 284.18,230.21 273.05,199.63 257.11,171.26 236.77,145.85 212.59,124.08 185.19,106.51 155.31,93.62 123.74,85.75 91.30,83.10" fill="#808080" fill-opacity="0.086"/><polygon points="91.30,283.10 289.35,255.27 282.45,224.25 270.72,194.73 254.46,167.43 234.09,143.06 210.11,122.21 183.13,105.43 153.84,93.13 122.97,85.62 91.30,83.10" fill="#808080" fill-opacity="0.094"/><polygon points="91.30,283.10 288.26,248.37 280.53,218.35 268.25,189.89 251.72,163.67 231.34,140.31 207.60,120.39 181.06,104.37 152.37,92.65 122.20,85.50 91.30,83.10" fill="#808080" fill-opacity="0.081"/><polygon points="91.30,283.10 286.93,241.52 277.06,208.99 261.83,178.60 241.67,151.23 217.16,127.67 189.02,108.60 158.06,94.57 125.17,85.99 91.30,83.10" fill="#808080" fill-opacity="0.062"/><polygon points="91.30,283.10 285.36,234.72 274.71,203.35 259.03,174.17 238.76,147.98 214.43,125.50 186.73,107.34 156.41,94.00 124.31,85.84 91.30,83.10" fill="#808080" fill-opacity="0.066"/><polygon points="91.30,283.10 283.55,227.97 272.19,197.79 256.13,169.82 235.77,144.80 211.66,123.37 184.42,106.10 154.76,93.44 123.45,85.70 91.30,83.10" fill="#808080" fill-opacity="0.071"/><polygon points="91.30,283.10 281.51,221.30 269.50,192.30 253.10,165.54 232.72,141.68 208.86,121.30 182.10,104.90 153.10,92.89 122.59,85.56 91.30,83.10" fill="#808080" fill-opacity="0.076"/><polygon points="91.30,283.10 279.24,214.70 266.65,186.90 249.97,161.35 229.60,138.63 206.02,119.27 179.76,103.73 151.44,92.36 121.72,85.43 91.30,83.10" fill="#808080" fill-opacity="0.068"/><polygon points="91.30,283.10 276.74,208.18 261.44,177.96 241.26,150.76 216.78,127.36 188.70,108.42 157.83,94.49 125.05,85.97 91.30,83.10" fill="#808080" fill-opacity="0.059"/><polygon points="91.30,283.10 274.01,201.75 258.21,172.92 237.91,147.07 213.64,124.89 186.07,106.98 155.94,93.83 124.06,85.80 91.30,83.10" fill="#808080" fill-opacity="0.062"/><polygon points="91.30,283.10 271.06,195.43 254.84,167.98 234.47,143.45 210.46,122.48 183.43,105.58 154.05,93.20 123.08,85.64 91.30,83.10" fill="#808080" fill-opacity="0.067"/><polygon points="91.30,283.10 267.89,189.21 251.33,163.14 230.95,139.93 207.24,120.13 180.76,104.22 152.15,92.58 122.09,85.48 91.30,83.10" fill="#808080" fill-opacity="0.071"/><polygon points="91.30,283.10 264.51,183.10 247.67,158.40 227.33,136.49 203.96,117.85 178.08,102.91 150.25,91.99 121.11,85.33 91.30,83.10" fill="#808080" fill-opacity="0.058"/><polygon points="91.30,283.10 260.91,177.12 240.71,150.14 216.26,126.94 188.26,108.18 157.51,94.38 124.88,85.94 91.30,83.10" fill="#808080" fill-opacity="0.041"/><polygon points="91.30,283.10 257.11,171.26 236.77,145.85 212.59,124.08 185.19,106.51 155.31,93.62 123.74,85.75 91.30,83.10" fill="#808080" fill-opacity="0.043"/><polygon points="91.30,283.10 253.10,165.54 232.72,141.68 208.86,121.30 182.10,104.90 153.10,92.89 122.59,85.56 91.30,83.10" fill="#808080" fill-opacity="0.044"/><polygon points="91.30,283.10 248.90,159.97 228.55,137.63 205.06,118.60 178.97,103.34 150.89,92.18 121.44,85.38 91.30,83.10" fill="#808080" fill-opacity="0.047"/><polygon points="91.30,283.10 244.51,154.54 224.26,133.69 201.20,116.00 175.82,101.84 148.66,91.50 120.29,85.21 91.30,83.10" fill="#808080" fill-opacity="0.049"/><polygon points="91.30,283.10 239.93,149.27 215.53,126.36 187.65,107.84 157.07,94.22 124.65,85.90 91.30,83.10" fill="#808080" fill-opacity="0.051"/><polygon points="91.30,283.10 235.17,144.17 211.10,122.95 183.96,105.86 154.43,93.32 123.28,85.67 91.30,83.10" fill="#808080" fill-opacity="0.054"/><polygon points="91.30,283.10 230.23,139.23 206.59,119.67 180.23,103.96 151.77,92.46 121.90,85.45 91.30,83.10" fill="#808080" fill-opacity="0.013"/><polygon points="91.30,283.10 225.13,134.47 201.98,116.52 176.46,102.13 149.11,91.64 120.52,85.25 91.30,83.10" fill="#808080" fill-opacity="0.013"/><polygon points="91.30,283.10 219.86,129.89 197.28,113.49 172.65,100.39 146.43,90.85 119.13,85.05 91.30,83.10" fill="#808080" fill-opacity="0.013"/><polygon points="91.30,283.10 214.43,125.50 186.73,107.34 156.41,94.00 124.31,85.84 91.30,83.10" fill="#808080" fill-opacity="0.013"/><polygon points="91.30,283.10 208.86,121.30 182.10,104.90 153.10,92.89 122.59,85.56 91.30,83.10" fill="#808080" fill-opacity="0.013"/><polygon points="91.30,283.10 203.14,117.29 177.40,102.58 149.77,91.84 120.86,85.30 91.30,83.10" fill="#808080" fill-opacity="0.014"/><polygon points="91.30,283.10 197.28,113.49 172.65,100.39 146.43,90.85 119.13,85.05 91.30,83.10" fill="#808080" fill-opacity="0.014"/><polygon points="91.30,283.10 191.30,109.89 167.84,98.32 143.06,89.91 117.41,84.81 91.30,83.10" fill="#808080" fill-opacity="0.014"/><polygon points="91.30,283.10 185.19,106.51 155.31,93.62 123.74,85.75 91.30,83.10" fill="#808080" fill-opacity="0.014"/><polygon points="91.30,283.10 178.97,103.34 150.89,92.18 121.44,85.38 91.30,83.10" fill="#808080" fill-opacity="0.014"/><polygon points="91.30,283.10 172.65,100.39 146.43,90.85 119.13,85.05 91.30,83.10" fill="#808080" fill-opacity="0.015"/><polygon points="91.30,283.10 166.22,97.66 141.94,89.62 116.83,84.74 91.30,83.10" fill="#808080" fill-opacity="0.015"/><polygon points="91.30,283.10 159.70,95.16 137.42,88.49 114.52,84.45 91.30,83.10" fill="#808080" fill-opacity="0.015"/><polygon points="91.30,283.10 153.10,92.89 122.59,85.56 91.30,83.10" fill="#808080" fill-opacity="0.015"/><polygon points="91.30,283.10 146.43,90.85 119.13,85.05 91.30,83.10" fill="#808080" fill-opacity="0.015"/><polygon points="91.30,283.10 139.68,89.04 115.67,84.59 91.30,83.10" fill="#808080" fill-opacity="0.016"/><polygon points="91.30,283.10 132.88,87.47 112.21,84.20 91.30,83.10" fill="#808080" fill-opacity="0.016"/><polygon points="91.30,283.10 126.03,86.14 108.73,83.86 91.30,83.10" fill="#808080" fill-opacity="0.016"/><polygon points="91.30,283.10 119.13,85.05 91.30,83.10" fill="#808080" fill-opacity="0.016"/><polygon points="91.30,283.10 112.21,84.20 91.30,83.10" fill="#808080" fill-opacity="0.017"/><polygon points="91.30,283.10 105.25,83.59 91.30,83.10" fill="#808080" fill-opacity="0.017"/><polygon points="91.30,283.10 98.28,83.22 91.30,83.10" fill="#808080" fill-opacity="0.017"/></g></g><g filter="url(#cmc)" clip-path="url(#c1chk)"><rect x="15.5" y="179.0" width="150.0" height="139.0" fill="url(#gx1)"/><rect x="15.5" y="179.0" width="150.0" height="139.0" fill="url(#gy1a)" opacity="0.5"/></g><g filter="url(#cm2)"><rect x="212.5" y="179.0" width="150.0" height="139.0" fill="url(#gx2)"/><rect x="212.5" y="179.0" width="150.0" height="139.0" fill="url(#gr2c)" opacity="0.12"/></g><g filter="url(#cm3)"><rect x="15.5" y="337.0" width="150.0" height="139.5" fill="url(#gx3)"/><rect x="15.5" y="337.0" width="150.0" height="139.5" fill="url(#gr3c)" opacity="0.5" mask="url(#m3)"/><g clip-path="url(#c3up)"><rect x="15.5" y="337.0" width="150.0" height="139.5" fill="#808080"/><path d="M96.0 374.4 L96.0 377.4 L96.0 377.6 L96.0 377.8 L96.0 377.8 M101.5 374.4 L101.5 377.4 L101.4 378.0 L101.4 378.4 L101.3 378.8 L101.3 379.0 L101.2 379.2 L101.2 379.2 M106.9 374.4 L106.9 377.4 L106.9 378.4 L106.8 379.3 L106.7 380.0 L106.5 380.6 L106.4 381.0 L106.2 381.4 L106.2 381.5 L106.1 381.6 M112.3 374.4 L112.3 377.4 L112.3 378.8 L112.2 380.0 L112.0 381.1 L111.8 382.0 L111.5 382.8 L111.3 383.5 L111.0 384.0 L110.8 384.4 L110.6 384.7 L110.5 384.8 L110.5 384.9 M117.8 374.4 L117.8 377.4 L117.7 379.1 L117.6 380.7 L117.3 382.1 L117.0 383.4 L116.7 384.5 L116.3 385.5 L115.9 386.4 L115.5 387.1 L115.2 387.7 L114.8 388.2 L114.5 388.5 L114.3 388.7 L114.2 388.9 L114.1 388.9 M123.2 374.4 L123.2 377.4 L123.2 379.4 L123.0 381.4 L122.7 383.1 L122.3 384.8 L121.9 386.3 L121.4 387.6 L120.8 388.8 L120.3 389.8 L119.7 390.7 L119.1 391.5 L118.6 392.1 L118.2 392.6 L117.8 393.0 L117.4 393.2 L117.2 393.4 L117.0 393.5 L117.0 393.6 M128.7 374.4 L128.7 377.4 L128.6 379.9 L128.4 382.3 L128.0 384.5 L127.5 386.6 L126.9 388.4 L126.2 390.1 L125.5 391.7 L124.7 393.0 L123.9 394.2 L123.1 395.3 L122.3 396.1 L121.6 396.8 L120.9 397.4 L120.3 397.9 L119.8 398.2 L119.4 398.4 L119.1 398.6 L118.9 398.6 L118.8 398.7 M134.2 374.4 L134.2 377.4 L134.1 380.3 L133.8 383.0 L133.3 385.5 L132.8 387.9 L132.0 390.2 L131.2 392.2 L130.4 394.1 L129.4 395.8 L128.4 397.3 L127.4 398.6 L126.4 399.7 L125.4 400.7 L124.5 401.6 L123.6 402.3 L122.7 402.8 L122.0 403.2 L121.3 403.5 L120.8 403.8 L120.3 403.9 L120.0 404.0 L119.8 404.0 L119.7 404.0 M139.6 374.4 L139.6 377.4 L139.5 380.6 L139.2 383.7 L138.7 386.6 L138.0 389.3 L137.2 391.9 L136.3 394.3 L135.3 396.5 L134.1 398.5 L133.0 400.3 L131.8 401.9 L130.5 403.3 L129.3 404.6 L128.0 405.7 L126.9 406.6 L125.7 407.4 L124.6 408.0 L123.6 408.5 L122.7 408.8 L121.9 409.1 L121.2 409.3 L120.6 409.4 L120.2 409.5 L119.9 409.5 L119.7 409.5 L119.6 409.5 M145.1 374.4 L145.1 377.4 L144.9 381.1 L144.6 384.6 L144.0 388.0 L143.2 391.1 L142.2 394.1 L141.1 396.9 L139.8 399.4 L138.5 401.8 L137.1 403.9 L135.6 405.9 L134.0 407.6 L132.5 409.1 L130.9 410.4 L129.4 411.5 L127.9 412.4 L126.5 413.1 L125.2 413.7 L124.0 414.2 L122.8 414.5 L121.8 414.7 L120.9 414.9 L120.1 414.9 L119.5 414.9 L119.0 414.9 L118.7 414.8 L118.5 414.8 L118.4 414.8 M150.5 374.4 L150.5 377.4 L150.4 381.4 L150.0 385.3 L149.3 389.0 L148.4 392.5 L147.4 395.8 L146.1 398.9 L144.7 401.8 L143.2 404.5 L141.6 406.9 L139.9 409.2 L138.1 411.2 L136.3 412.9 L134.5 414.5 L132.7 415.8 L130.9 417.0 L129.2 417.9 L127.5 418.7 L125.9 419.3 L124.4 419.7 L123.0 420.1 L121.7 420.3 L120.6 420.4 L119.5 420.4 L118.6 420.3 L117.9 420.2 L117.3 420.1 L116.8 420.0 L116.5 419.9 L116.3 419.8 L116.3 419.8 M155.9 374.4 L155.9 377.4 L155.8 381.8 L155.4 386.0 L154.7 390.0 L153.7 393.9 L152.6 397.5 L151.2 401.0 L149.7 404.2 L148.0 407.2 L146.2 409.9 L144.2 412.5 L142.2 414.7 L140.2 416.8 L138.1 418.6 L136.0 420.2 L133.9 421.5 L131.9 422.7 L129.8 423.6 L127.9 424.4 L126.0 424.9 L124.3 425.4 L122.6 425.6 L121.1 425.8 L119.7 425.8 L118.4 425.8 L117.2 425.6 L116.3 425.5 L115.4 425.3 L114.7 425.0 L114.1 424.8 L113.7 424.6 L113.4 424.4 L113.3 424.3 L113.2 424.3 M161.4 374.4 L161.4 377.4 L161.2 382.2 L160.8 386.8 L160.0 391.3 L158.9 395.5 L157.6 399.6 L156.1 403.4 L154.4 407.0 L152.5 410.3 L150.4 413.4 L148.2 416.2 L146.0 418.7 L143.6 421.0 L141.2 423.1 L138.8 424.9 L136.4 426.4 L134.0 427.7 L131.6 428.8 L129.3 429.6 L127.1 430.3 L124.9 430.8 L122.9 431.1 L121.0 431.2 L119.2 431.3 L117.6 431.2 L116.1 431.0 L114.8 430.7 L113.6 430.4 L112.6 430.0 L111.7 429.7 L111.0 429.3 L110.4 429.0 L109.9 428.6 L109.6 428.4 L109.4 428.2 M166.8 374.4 L166.8 377.4 L166.7 382.6 L166.1 387.6 L165.3 392.4 L164.2 397.0 L162.7 401.4 L161.1 405.6 L159.2 409.5 L157.1 413.2 L154.8 416.5 L152.4 419.7 L149.9 422.5 L147.3 425.1 L144.6 427.3 L141.9 429.4 L139.1 431.1 L136.4 432.6 L133.7 433.8 L131.0 434.8 L128.4 435.6 L125.9 436.1 L123.5 436.5 L121.2 436.7 L119.1 436.7 L117.1 436.6 L115.2 436.4 L113.5 436.0 L112.0 435.6 L110.6 435.1 L109.4 434.6 L108.3 434.1 L107.4 433.5 L106.7 433.0 L106.0 432.5 L105.6 432.1 M172.3 374.4 L172.3 377.4 L172.1 382.9 L171.5 388.3 L170.6 393.5 L169.4 398.5 L167.9 403.3 L166.1 407.8 L164.0 412.0 L161.7 416.0 L159.3 419.7 L156.6 423.1 L153.8 426.3 L150.9 429.1 L148.0 431.6 L144.9 433.9 L141.9 435.8 L138.8 437.5 L135.8 438.9 L132.8 440.0 L129.8 440.9 L126.9 441.5 L124.2 441.9 L121.5 442.1 L119.0 442.2 L116.6 442.0 L114.3 441.7 L112.3 441.3 L110.4 440.8 L108.6 440.2 L107.1 439.5 L105.7 438.8 L104.4 438.1 L103.4 437.3 L102.5 436.6 L101.7 435.9 M177.8 374.4 L177.8 377.4 L177.5 383.3 L176.9 389.1 L176.0 394.7 L174.6 400.0 L173.0 405.1 L171.0 410.0 L168.8 414.6 L166.4 418.9 L163.7 422.9 L160.8 426.6 L157.8 430.0 L154.6 433.1 L151.4 435.9 L148.0 438.3 L144.6 440.5 L141.2 442.3 L137.9 443.9 L134.5 445.1 L131.2 446.1 L127.9 446.9 L124.8 447.3 L121.8 447.6 L118.8 447.6 L116.1 447.5 L113.5 447.1 L111.0 446.6 L108.7 446.0 L106.7 445.3 L104.7 444.5 L103.0 443.6 L101.5 442.7 L100.1 441.7 L98.9 440.7 L97.9 439.8 M183.2 374.4 L183.2 377.4 L183.0 383.7 L182.3 389.8 L181.3 395.8 L179.9 401.5 L178.1 407.0 L176.0 412.2 L173.6 417.1 L171.0 421.8 L168.1 426.1 L165.0 430.1 L161.7 433.8 L158.3 437.1 L154.7 440.2 L151.1 442.8 L147.4 445.2 L143.7 447.2 L139.9 448.9 L136.2 450.3 L132.5 451.4 L128.9 452.2 L125.4 452.7 L122.0 453.0 L118.7 453.1 L115.6 452.9 L112.6 452.5 L109.8 451.9 L107.1 451.2 L104.7 450.4 L102.4 449.4 L100.4 448.3 L98.5 447.2 L96.8 446.0 L95.3 444.8 L94.0 443.6 M188.7 374.4 L188.7 377.4 L188.4 384.1 L187.7 390.6 L186.6 396.9 L185.1 403.0 L183.3 408.8 L181.0 414.4 L178.5 419.7 L175.6 424.6 L172.5 429.3 L169.2 433.6 L165.7 437.6 L162.0 441.2 L158.1 444.4 L154.2 447.3 L150.2 449.9 L146.1 452.1 L142.0 454.0 L137.9 455.5 L133.9 456.7 L129.9 457.6 L126.0 458.2 L122.3 458.5 L118.6 458.5 L115.1 458.3 L111.7 457.9 L108.5 457.2 L105.5 456.4 L102.7 455.5 L100.1 454.3 L97.7 453.1 L95.5 451.8 L93.5 450.4 L91.7 448.9 L90.2 447.5 M194.1 374.4 L194.1 377.4 L193.9 384.5 L193.1 391.3 L192.0 398.0 L190.4 404.5 L188.4 410.7 L186.0 416.6 L183.3 422.2 L180.3 427.5 L177.0 432.5 L173.4 437.1 L169.6 441.3 L165.6 445.2 L161.5 448.7 L157.3 451.8 L152.9 454.6 L148.5 457.0 L144.1 459.0 L139.7 460.7 L135.3 462.0 L130.9 462.9 L126.7 463.6 L122.5 463.9 L118.5 464.0 L114.6 463.7 L110.8 463.3 L107.3 462.6 L103.9 461.6 L100.7 460.5 L97.8 459.3 L95.0 457.9 L92.5 456.3 L90.2 454.7 L88.2 453.1 L86.3 451.3" fill="none" stroke="#c2c2c2" stroke-width="2.72"/><path d="M96.0 374.4 L96.0 377.4 L96.0 377.6 L96.0 377.8 L96.0 377.8 M101.5 374.4 L101.5 377.4 L101.4 378.0 L101.4 378.4 L101.3 378.8 L101.3 379.0 L101.2 379.2 L101.2 379.2 M106.9 374.4 L106.9 377.4 L106.9 378.4 L106.8 379.3 L106.7 380.0 L106.5 380.6 L106.4 381.0 L106.2 381.4 L106.2 381.5 L106.1 381.6 M112.3 374.4 L112.3 377.4 L112.3 378.8 L112.2 380.0 L112.0 381.1 L111.8 382.0 L111.5 382.8 L111.3 383.5 L111.0 384.0 L110.8 384.4 L110.6 384.7 L110.5 384.8 L110.5 384.9 M117.8 374.4 L117.8 377.4 L117.7 379.1 L117.6 380.7 L117.3 382.1 L117.0 383.4 L116.7 384.5 L116.3 385.5 L115.9 386.4 L115.5 387.1 L115.2 387.7 L114.8 388.2 L114.5 388.5 L114.3 388.7 L114.2 388.9 L114.1 388.9 M123.2 374.4 L123.2 377.4 L123.2 379.4 L123.0 381.4 L122.7 383.1 L122.3 384.8 L121.9 386.3 L121.4 387.6 L120.8 388.8 L120.3 389.8 L119.7 390.7 L119.1 391.5 L118.6 392.1 L118.2 392.6 L117.8 393.0 L117.4 393.2 L117.2 393.4 L117.0 393.5 L117.0 393.6 M128.7 374.4 L128.7 377.4 L128.6 379.9 L128.4 382.3 L128.0 384.5 L127.5 386.6 L126.9 388.4 L126.2 390.1 L125.5 391.7 L124.7 393.0 L123.9 394.2 L123.1 395.3 L122.3 396.1 L121.6 396.8 L120.9 397.4 L120.3 397.9 L119.8 398.2 L119.4 398.4 L119.1 398.6 L118.9 398.6 L118.8 398.7 M134.2 374.4 L134.2 377.4 L134.1 380.3 L133.8 383.0 L133.3 385.5 L132.8 387.9 L132.0 390.2 L131.2 392.2 L130.4 394.1 L129.4 395.8 L128.4 397.3 L127.4 398.6 L126.4 399.7 L125.4 400.7 L124.5 401.6 L123.6 402.3 L122.7 402.8 L122.0 403.2 L121.3 403.5 L120.8 403.8 L120.3 403.9 L120.0 404.0 L119.8 404.0 L119.7 404.0 M139.6 374.4 L139.6 377.4 L139.5 380.6 L139.2 383.7 L138.7 386.6 L138.0 389.3 L137.2 391.9 L136.3 394.3 L135.3 396.5 L134.1 398.5 L133.0 400.3 L131.8 401.9 L130.5 403.3 L129.3 404.6 L128.0 405.7 L126.9 406.6 L125.7 407.4 L124.6 408.0 L123.6 408.5 L122.7 408.8 L121.9 409.1 L121.2 409.3 L120.6 409.4 L120.2 409.5 L119.9 409.5 L119.7 409.5 L119.6 409.5 M145.1 374.4 L145.1 377.4 L144.9 381.1 L144.6 384.6 L144.0 388.0 L143.2 391.1 L142.2 394.1 L141.1 396.9 L139.8 399.4 L138.5 401.8 L137.1 403.9 L135.6 405.9 L134.0 407.6 L132.5 409.1 L130.9 410.4 L129.4 411.5 L127.9 412.4 L126.5 413.1 L125.2 413.7 L124.0 414.2 L122.8 414.5 L121.8 414.7 L120.9 414.9 L120.1 414.9 L119.5 414.9 L119.0 414.9 L118.7 414.8 L118.5 414.8 L118.4 414.8 M150.5 374.4 L150.5 377.4 L150.4 381.4 L150.0 385.3 L149.3 389.0 L148.4 392.5 L147.4 395.8 L146.1 398.9 L144.7 401.8 L143.2 404.5 L141.6 406.9 L139.9 409.2 L138.1 411.2 L136.3 412.9 L134.5 414.5 L132.7 415.8 L130.9 417.0 L129.2 417.9 L127.5 418.7 L125.9 419.3 L124.4 419.7 L123.0 420.1 L121.7 420.3 L120.6 420.4 L119.5 420.4 L118.6 420.3 L117.9 420.2 L117.3 420.1 L116.8 420.0 L116.5 419.9 L116.3 419.8 L116.3 419.8 M155.9 374.4 L155.9 377.4 L155.8 381.8 L155.4 386.0 L154.7 390.0 L153.7 393.9 L152.6 397.5 L151.2 401.0 L149.7 404.2 L148.0 407.2 L146.2 409.9 L144.2 412.5 L142.2 414.7 L140.2 416.8 L138.1 418.6 L136.0 420.2 L133.9 421.5 L131.9 422.7 L129.8 423.6 L127.9 424.4 L126.0 424.9 L124.3 425.4 L122.6 425.6 L121.1 425.8 L119.7 425.8 L118.4 425.8 L117.2 425.6 L116.3 425.5 L115.4 425.3 L114.7 425.0 L114.1 424.8 L113.7 424.6 L113.4 424.4 L113.3 424.3 L113.2 424.3 M161.4 374.4 L161.4 377.4 L161.2 382.2 L160.8 386.8 L160.0 391.3 L158.9 395.5 L157.6 399.6 L156.1 403.4 L154.4 407.0 L152.5 410.3 L150.4 413.4 L148.2 416.2 L146.0 418.7 L143.6 421.0 L141.2 423.1 L138.8 424.9 L136.4 426.4 L134.0 427.7 L131.6 428.8 L129.3 429.6 L127.1 430.3 L124.9 430.8 L122.9 431.1 L121.0 431.2 L119.2 431.3 L117.6 431.2 L116.1 431.0 L114.8 430.7 L113.6 430.4 L112.6 430.0 L111.7 429.7 L111.0 429.3 L110.4 429.0 L109.9 428.6 L109.6 428.4 L109.4 428.2 M166.8 374.4 L166.8 377.4 L166.7 382.6 L166.1 387.6 L165.3 392.4 L164.2 397.0 L162.7 401.4 L161.1 405.6 L159.2 409.5 L157.1 413.2 L154.8 416.5 L152.4 419.7 L149.9 422.5 L147.3 425.1 L144.6 427.3 L141.9 429.4 L139.1 431.1 L136.4 432.6 L133.7 433.8 L131.0 434.8 L128.4 435.6 L125.9 436.1 L123.5 436.5 L121.2 436.7 L119.1 436.7 L117.1 436.6 L115.2 436.4 L113.5 436.0 L112.0 435.6 L110.6 435.1 L109.4 434.6 L108.3 434.1 L107.4 433.5 L106.7 433.0 L106.0 432.5 L105.6 432.1 M172.3 374.4 L172.3 377.4 L172.1 382.9 L171.5 388.3 L170.6 393.5 L169.4 398.5 L167.9 403.3 L166.1 407.8 L164.0 412.0 L161.7 416.0 L159.3 419.7 L156.6 423.1 L153.8 426.3 L150.9 429.1 L148.0 431.6 L144.9 433.9 L141.9 435.8 L138.8 437.5 L135.8 438.9 L132.8 440.0 L129.8 440.9 L126.9 441.5 L124.2 441.9 L121.5 442.1 L119.0 442.2 L116.6 442.0 L114.3 441.7 L112.3 441.3 L110.4 440.8 L108.6 440.2 L107.1 439.5 L105.7 438.8 L104.4 438.1 L103.4 437.3 L102.5 436.6 L101.7 435.9 M177.8 374.4 L177.8 377.4 L177.5 383.3 L176.9 389.1 L176.0 394.7 L174.6 400.0 L173.0 405.1 L171.0 410.0 L168.8 414.6 L166.4 418.9 L163.7 422.9 L160.8 426.6 L157.8 430.0 L154.6 433.1 L151.4 435.9 L148.0 438.3 L144.6 440.5 L141.2 442.3 L137.9 443.9 L134.5 445.1 L131.2 446.1 L127.9 446.9 L124.8 447.3 L121.8 447.6 L118.8 447.6 L116.1 447.5 L113.5 447.1 L111.0 446.6 L108.7 446.0 L106.7 445.3 L104.7 444.5 L103.0 443.6 L101.5 442.7 L100.1 441.7 L98.9 440.7 L97.9 439.8 M183.2 374.4 L183.2 377.4 L183.0 383.7 L182.3 389.8 L181.3 395.8 L179.9 401.5 L178.1 407.0 L176.0 412.2 L173.6 417.1 L171.0 421.8 L168.1 426.1 L165.0 430.1 L161.7 433.8 L158.3 437.1 L154.7 440.2 L151.1 442.8 L147.4 445.2 L143.7 447.2 L139.9 448.9 L136.2 450.3 L132.5 451.4 L128.9 452.2 L125.4 452.7 L122.0 453.0 L118.7 453.1 L115.6 452.9 L112.6 452.5 L109.8 451.9 L107.1 451.2 L104.7 450.4 L102.4 449.4 L100.4 448.3 L98.5 447.2 L96.8 446.0 L95.3 444.8 L94.0 443.6 M188.7 374.4 L188.7 377.4 L188.4 384.1 L187.7 390.6 L186.6 396.9 L185.1 403.0 L183.3 408.8 L181.0 414.4 L178.5 419.7 L175.6 424.6 L172.5 429.3 L169.2 433.6 L165.7 437.6 L162.0 441.2 L158.1 444.4 L154.2 447.3 L150.2 449.9 L146.1 452.1 L142.0 454.0 L137.9 455.5 L133.9 456.7 L129.9 457.6 L126.0 458.2 L122.3 458.5 L118.6 458.5 L115.1 458.3 L111.7 457.9 L108.5 457.2 L105.5 456.4 L102.7 455.5 L100.1 454.3 L97.7 453.1 L95.5 451.8 L93.5 450.4 L91.7 448.9 L90.2 447.5 M194.1 374.4 L194.1 377.4 L193.9 384.5 L193.1 391.3 L192.0 398.0 L190.4 404.5 L188.4 410.7 L186.0 416.6 L183.3 422.2 L180.3 427.5 L177.0 432.5 L173.4 437.1 L169.6 441.3 L165.6 445.2 L161.5 448.7 L157.3 451.8 L152.9 454.6 L148.5 457.0 L144.1 459.0 L139.7 460.7 L135.3 462.0 L130.9 462.9 L126.7 463.6 L122.5 463.9 L118.5 464.0 L114.6 463.7 L110.8 463.3 L107.3 462.6 L103.9 461.6 L100.7 460.5 L97.8 459.3 L95.0 457.9 L92.5 456.3 L90.2 454.7 L88.2 453.1 L86.3 451.3" fill="none" stroke="#f5f5f5" stroke-width="1.36"/><path d="M93.3 374.4 L93.3 377.4 L93.3 377.5 L93.3 377.5 M98.7 374.4 L98.7 377.4 L98.7 377.8 L98.7 378.1 L98.7 378.3 L98.6 378.4 M104.2 374.4 L104.2 377.4 L104.2 378.2 L104.1 378.8 L104.0 379.4 L103.9 379.8 L103.8 380.1 L103.8 380.2 L103.7 380.3 M109.6 374.4 L109.6 377.4 L109.6 378.5 L109.5 379.5 L109.4 380.4 L109.2 381.2 L109.0 381.8 L108.8 382.3 L108.6 382.7 L108.5 382.9 L108.4 383.1 L108.4 383.1 M115.1 374.4 L115.1 377.4 L115.0 379.0 L114.9 380.4 L114.6 381.7 L114.4 382.9 L114.0 383.9 L113.7 384.7 L113.4 385.4 L113.1 385.9 L112.8 386.3 L112.6 386.6 L112.4 386.8 L112.4 386.8 M120.5 374.4 L120.5 377.4 L120.5 379.3 L120.3 381.1 L120.0 382.8 L119.6 384.3 L119.2 385.6 L118.7 386.8 L118.3 387.8 L117.8 388.7 L117.3 389.4 L116.8 390.0 L116.4 390.5 L116.1 390.8 L115.9 391.0 L115.7 391.1 L115.7 391.2 M126.0 374.4 L126.0 377.4 L125.9 379.7 L125.7 381.8 L125.3 383.8 L124.9 385.7 L124.4 387.3 L123.8 388.9 L123.1 390.2 L122.5 391.4 L121.8 392.5 L121.1 393.3 L120.5 394.1 L119.9 394.7 L119.4 395.2 L118.9 395.5 L118.5 395.8 L118.3 395.9 L118.1 396.0 L118.0 396.1 M131.4 374.4 L131.4 377.4 L131.3 380.0 L131.1 382.5 L130.7 384.9 L130.2 387.0 L129.5 389.1 L128.8 390.9 L128.0 392.6 L127.2 394.1 L126.3 395.5 L125.5 396.7 L124.6 397.7 L123.8 398.6 L122.9 399.3 L122.2 399.9 L121.5 400.4 L120.9 400.7 L120.4 401.0 L120.0 401.2 L119.7 401.3 L119.5 401.3 L119.4 401.3 M136.9 374.4 L136.9 377.4 L136.8 380.5 L136.5 383.4 L136.0 386.2 L135.3 388.8 L134.5 391.3 L133.6 393.5 L132.7 395.6 L131.6 397.4 L130.5 399.1 L129.3 400.5 L128.2 401.8 L127.1 402.9 L126.0 403.9 L124.9 404.6 L123.9 405.3 L123.0 405.8 L122.2 406.1 L121.5 406.4 L120.9 406.6 L120.4 406.7 L120.1 406.7 L119.9 406.7 L119.8 406.8 M142.3 374.4 L142.3 377.4 L142.2 380.8 L141.9 384.1 L141.3 387.3 L140.6 390.2 L139.7 393.0 L138.7 395.6 L137.6 397.9 L136.3 400.1 L135.0 402.1 L133.7 403.9 L132.3 405.4 L130.9 406.8 L129.5 408.0 L128.2 409.0 L126.8 409.9 L125.6 410.6 L124.4 411.1 L123.4 411.5 L122.4 411.8 L121.5 412.0 L120.8 412.1 L120.2 412.2 L119.7 412.2 L119.4 412.2 L119.2 412.2 L119.1 412.2 M147.8 374.4 L147.8 377.4 L147.6 381.2 L147.3 384.8 L146.7 388.3 L145.9 391.6 L144.9 394.7 L143.7 397.6 L142.5 400.3 L141.1 402.8 L139.6 405.1 L138.0 407.2 L136.4 409.0 L134.7 410.7 L133.1 412.1 L131.4 413.4 L129.8 414.4 L128.3 415.3 L126.8 416.0 L125.4 416.6 L124.0 417.0 L122.8 417.3 L121.7 417.5 L120.7 417.6 L119.8 417.7 L119.1 417.6 L118.5 417.6 L118.0 417.5 L117.7 417.4 L117.5 417.4 L117.5 417.3 M153.2 374.4 L153.2 377.4 L153.1 381.7 L152.6 385.8 L152.0 389.7 L151.0 393.4 L149.9 397.0 L148.5 400.3 L147.0 403.3 L145.4 406.2 L143.6 408.8 L141.8 411.2 L139.8 413.3 L137.9 415.2 L135.9 416.9 L133.9 418.3 L131.9 419.5 L130.0 420.5 L128.2 421.3 L126.4 422.0 L124.7 422.5 L123.1 422.8 L121.7 423.0 L120.4 423.1 L119.2 423.1 L118.1 423.0 L117.2 422.9 L116.5 422.7 L115.9 422.5 L115.4 422.4 L115.1 422.2 L114.9 422.1 L114.8 422.1 M158.7 374.4 L158.7 377.4 L158.5 382.0 L158.1 386.4 L157.3 390.7 L156.3 394.8 L155.1 398.6 L153.6 402.3 L152.0 405.7 L150.1 408.9 L148.2 411.8 L146.1 414.4 L144.0 416.9 L141.8 419.0 L139.5 420.9 L137.2 422.6 L135.0 424.1 L132.7 425.3 L130.6 426.3 L128.4 427.1 L126.4 427.7 L124.4 428.1 L122.6 428.4 L120.9 428.5 L119.3 428.5 L117.8 428.5 L116.5 428.3 L115.4 428.1 L114.4 427.8 L113.5 427.5 L112.8 427.2 L112.3 426.9 L111.9 426.7 L111.6 426.5 L111.4 426.3 L111.4 426.3 M164.1 374.4 L164.1 377.4 L164.0 382.4 L163.5 387.2 L162.6 391.8 L161.5 396.3 L160.2 400.5 L158.6 404.5 L156.8 408.2 L154.8 411.7 L152.6 415.0 L150.3 417.9 L147.9 420.6 L145.4 423.0 L142.9 425.2 L140.3 427.1 L137.7 428.8 L135.2 430.1 L132.6 431.3 L130.2 432.2 L127.7 432.9 L125.4 433.5 L123.2 433.8 L121.1 434.0 L119.2 434.0 L117.3 433.9 L115.7 433.7 L114.1 433.4 L112.8 433.0 L111.6 432.6 L110.5 432.1 L109.6 431.7 L108.9 431.2 L108.3 430.8 L107.8 430.4 L107.5 430.1 M169.6 374.4 L169.6 377.4 L169.4 382.8 L168.8 388.0 L168.0 393.0 L166.8 397.8 L165.3 402.4 L163.6 406.7 L161.6 410.8 L159.4 414.6 L157.0 418.1 L154.5 421.4 L151.9 424.4 L149.1 427.1 L146.3 429.5 L143.4 431.6 L140.5 433.4 L137.6 435.0 L134.7 436.3 L131.9 437.4 L129.1 438.2 L126.4 438.8 L123.8 439.2 L121.4 439.4 L119.0 439.4 L116.8 439.3 L114.8 439.1 L112.9 438.7 L111.2 438.2 L109.6 437.7 L108.2 437.1 L107.0 436.4 L105.9 435.8 L105.0 435.2 L104.3 434.6 L103.7 434.0 M175.0 374.4 L175.0 377.4 L174.8 383.1 L174.2 388.7 L173.3 394.1 L172.0 399.3 L170.4 404.2 L168.6 408.9 L166.4 413.3 L164.0 417.5 L161.5 421.3 L158.7 424.9 L155.8 428.1 L152.8 431.1 L149.7 433.8 L146.5 436.1 L143.3 438.1 L140.0 439.9 L136.8 441.4 L133.6 442.6 L130.5 443.5 L127.4 444.2 L124.5 444.6 L121.6 444.9 L118.9 444.9 L116.3 444.7 L113.9 444.4 L111.6 444.0 L109.6 443.4 L107.6 442.7 L105.9 442.0 L104.3 441.2 L102.9 440.4 L101.7 439.5 L100.7 438.7 L99.8 437.8 M180.5 374.4 L180.5 377.4 L180.3 383.5 L179.6 389.5 L178.6 395.2 L177.3 400.8 L175.6 406.1 L173.5 411.1 L171.2 415.9 L168.7 420.3 L165.9 424.5 L162.9 428.4 L159.8 431.9 L156.5 435.1 L153.1 438.0 L149.6 440.6 L146.0 442.8 L142.5 444.8 L138.9 446.4 L135.4 447.7 L131.9 448.8 L128.4 449.5 L125.1 450.0 L121.9 450.3 L118.8 450.3 L115.8 450.2 L113.0 449.8 L110.4 449.3 L107.9 448.6 L105.7 447.8 L103.6 446.9 L101.7 446.0 L100.0 444.9 L98.4 443.9 L97.1 442.8 L95.9 441.7 M185.9 374.4 L185.9 377.4 L185.7 383.9 L185.0 390.2 L184.0 396.3 L182.5 402.2 L180.7 407.9 L178.5 413.3 L176.1 418.4 L173.3 423.2 L170.3 427.7 L167.1 431.9 L163.7 435.7 L160.1 439.2 L156.4 442.3 L152.6 445.1 L148.8 447.5 L144.9 449.7 L141.0 451.4 L137.1 452.9 L133.2 454.0 L129.4 454.9 L125.7 455.5 L122.1 455.7 L118.7 455.8 L115.3 455.6 L112.2 455.2 L109.2 454.6 L106.3 453.8 L103.7 452.9 L101.3 451.9 L99.0 450.7 L97.0 449.5 L95.2 448.2 L93.5 446.9 L92.1 445.6 M191.4 374.4 L191.4 377.4 L191.1 384.3 L190.4 391.0 L189.3 397.5 L187.8 403.7 L185.8 409.8 L183.5 415.5 L180.9 420.9 L177.9 426.1 L174.7 430.9 L171.3 435.3 L167.6 439.4 L163.8 443.2 L159.8 446.6 L155.7 449.6 L151.5 452.2 L147.3 454.5 L143.1 456.5 L138.8 458.1 L134.6 459.3 L130.4 460.2 L126.4 460.9 L122.4 461.2 L118.5 461.2 L114.8 461.0 L111.3 460.6 L107.9 459.9 L104.7 459.0 L101.7 458.0 L98.9 456.8 L96.4 455.5 L94.0 454.1 L91.9 452.6 L90.0 451.0 L88.2 449.4" fill="none" stroke="#3d3d3d" stroke-width="2.72"/><path d="M93.3 374.4 L93.3 377.4 L93.3 377.5 L93.3 377.5 M98.7 374.4 L98.7 377.4 L98.7 377.8 L98.7 378.1 L98.7 378.3 L98.6 378.4 M104.2 374.4 L104.2 377.4 L104.2 378.2 L104.1 378.8 L104.0 379.4 L103.9 379.8 L103.8 380.1 L103.8 380.2 L103.7 380.3 M109.6 374.4 L109.6 377.4 L109.6 378.5 L109.5 379.5 L109.4 380.4 L109.2 381.2 L109.0 381.8 L108.8 382.3 L108.6 382.7 L108.5 382.9 L108.4 383.1 L108.4 383.1 M115.1 374.4 L115.1 377.4 L115.0 379.0 L114.9 380.4 L114.6 381.7 L114.4 382.9 L114.0 383.9 L113.7 384.7 L113.4 385.4 L113.1 385.9 L112.8 386.3 L112.6 386.6 L112.4 386.8 L112.4 386.8 M120.5 374.4 L120.5 377.4 L120.5 379.3 L120.3 381.1 L120.0 382.8 L119.6 384.3 L119.2 385.6 L118.7 386.8 L118.3 387.8 L117.8 388.7 L117.3 389.4 L116.8 390.0 L116.4 390.5 L116.1 390.8 L115.9 391.0 L115.7 391.1 L115.7 391.2 M126.0 374.4 L126.0 377.4 L125.9 379.7 L125.7 381.8 L125.3 383.8 L124.9 385.7 L124.4 387.3 L123.8 388.9 L123.1 390.2 L122.5 391.4 L121.8 392.5 L121.1 393.3 L120.5 394.1 L119.9 394.7 L119.4 395.2 L118.9 395.5 L118.5 395.8 L118.3 395.9 L118.1 396.0 L118.0 396.1 M131.4 374.4 L131.4 377.4 L131.3 380.0 L131.1 382.5 L130.7 384.9 L130.2 387.0 L129.5 389.1 L128.8 390.9 L128.0 392.6 L127.2 394.1 L126.3 395.5 L125.5 396.7 L124.6 397.7 L123.8 398.6 L122.9 399.3 L122.2 399.9 L121.5 400.4 L120.9 400.7 L120.4 401.0 L120.0 401.2 L119.7 401.3 L119.5 401.3 L119.4 401.3 M136.9 374.4 L136.9 377.4 L136.8 380.5 L136.5 383.4 L136.0 386.2 L135.3 388.8 L134.5 391.3 L133.6 393.5 L132.7 395.6 L131.6 397.4 L130.5 399.1 L129.3 400.5 L128.2 401.8 L127.1 402.9 L126.0 403.9 L124.9 404.6 L123.9 405.3 L123.0 405.8 L122.2 406.1 L121.5 406.4 L120.9 406.6 L120.4 406.7 L120.1 406.7 L119.9 406.7 L119.8 406.8 M142.3 374.4 L142.3 377.4 L142.2 380.8 L141.9 384.1 L141.3 387.3 L140.6 390.2 L139.7 393.0 L138.7 395.6 L137.6 397.9 L136.3 400.1 L135.0 402.1 L133.7 403.9 L132.3 405.4 L130.9 406.8 L129.5 408.0 L128.2 409.0 L126.8 409.9 L125.6 410.6 L124.4 411.1 L123.4 411.5 L122.4 411.8 L121.5 412.0 L120.8 412.1 L120.2 412.2 L119.7 412.2 L119.4 412.2 L119.2 412.2 L119.1 412.2 M147.8 374.4 L147.8 377.4 L147.6 381.2 L147.3 384.8 L146.7 388.3 L145.9 391.6 L144.9 394.7 L143.7 397.6 L142.5 400.3 L141.1 402.8 L139.6 405.1 L138.0 407.2 L136.4 409.0 L134.7 410.7 L133.1 412.1 L131.4 413.4 L129.8 414.4 L128.3 415.3 L126.8 416.0 L125.4 416.6 L124.0 417.0 L122.8 417.3 L121.7 417.5 L120.7 417.6 L119.8 417.7 L119.1 417.6 L118.5 417.6 L118.0 417.5 L117.7 417.4 L117.5 417.4 L117.5 417.3 M153.2 374.4 L153.2 377.4 L153.1 381.7 L152.6 385.8 L152.0 389.7 L151.0 393.4 L149.9 397.0 L148.5 400.3 L147.0 403.3 L145.4 406.2 L143.6 408.8 L141.8 411.2 L139.8 413.3 L137.9 415.2 L135.9 416.9 L133.9 418.3 L131.9 419.5 L130.0 420.5 L128.2 421.3 L126.4 422.0 L124.7 422.5 L123.1 422.8 L121.7 423.0 L120.4 423.1 L119.2 423.1 L118.1 423.0 L117.2 422.9 L116.5 422.7 L115.9 422.5 L115.4 422.4 L115.1 422.2 L114.9 422.1 L114.8 422.1 M158.7 374.4 L158.7 377.4 L158.5 382.0 L158.1 386.4 L157.3 390.7 L156.3 394.8 L155.1 398.6 L153.6 402.3 L152.0 405.7 L150.1 408.9 L148.2 411.8 L146.1 414.4 L144.0 416.9 L141.8 419.0 L139.5 420.9 L137.2 422.6 L135.0 424.1 L132.7 425.3 L130.6 426.3 L128.4 427.1 L126.4 427.7 L124.4 428.1 L122.6 428.4 L120.9 428.5 L119.3 428.5 L117.8 428.5 L116.5 428.3 L115.4 428.1 L114.4 427.8 L113.5 427.5 L112.8 427.2 L112.3 426.9 L111.9 426.7 L111.6 426.5 L111.4 426.3 L111.4 426.3 M164.1 374.4 L164.1 377.4 L164.0 382.4 L163.5 387.2 L162.6 391.8 L161.5 396.3 L160.2 400.5 L158.6 404.5 L156.8 408.2 L154.8 411.7 L152.6 415.0 L150.3 417.9 L147.9 420.6 L145.4 423.0 L142.9 425.2 L140.3 427.1 L137.7 428.8 L135.2 430.1 L132.6 431.3 L130.2 432.2 L127.7 432.9 L125.4 433.5 L123.2 433.8 L121.1 434.0 L119.2 434.0 L117.3 433.9 L115.7 433.7 L114.1 433.4 L112.8 433.0 L111.6 432.6 L110.5 432.1 L109.6 431.7 L108.9 431.2 L108.3 430.8 L107.8 430.4 L107.5 430.1 M169.6 374.4 L169.6 377.4 L169.4 382.8 L168.8 388.0 L168.0 393.0 L166.8 397.8 L165.3 402.4 L163.6 406.7 L161.6 410.8 L159.4 414.6 L157.0 418.1 L154.5 421.4 L151.9 424.4 L149.1 427.1 L146.3 429.5 L143.4 431.6 L140.5 433.4 L137.6 435.0 L134.7 436.3 L131.9 437.4 L129.1 438.2 L126.4 438.8 L123.8 439.2 L121.4 439.4 L119.0 439.4 L116.8 439.3 L114.8 439.1 L112.9 438.7 L111.2 438.2 L109.6 437.7 L108.2 437.1 L107.0 436.4 L105.9 435.8 L105.0 435.2 L104.3 434.6 L103.7 434.0 M175.0 374.4 L175.0 377.4 L174.8 383.1 L174.2 388.7 L173.3 394.1 L172.0 399.3 L170.4 404.2 L168.6 408.9 L166.4 413.3 L164.0 417.5 L161.5 421.3 L158.7 424.9 L155.8 428.1 L152.8 431.1 L149.7 433.8 L146.5 436.1 L143.3 438.1 L140.0 439.9 L136.8 441.4 L133.6 442.6 L130.5 443.5 L127.4 444.2 L124.5 444.6 L121.6 444.9 L118.9 444.9 L116.3 444.7 L113.9 444.4 L111.6 444.0 L109.6 443.4 L107.6 442.7 L105.9 442.0 L104.3 441.2 L102.9 440.4 L101.7 439.5 L100.7 438.7 L99.8 437.8 M180.5 374.4 L180.5 377.4 L180.3 383.5 L179.6 389.5 L178.6 395.2 L177.3 400.8 L175.6 406.1 L173.5 411.1 L171.2 415.9 L168.7 420.3 L165.9 424.5 L162.9 428.4 L159.8 431.9 L156.5 435.1 L153.1 438.0 L149.6 440.6 L146.0 442.8 L142.5 444.8 L138.9 446.4 L135.4 447.7 L131.9 448.8 L128.4 449.5 L125.1 450.0 L121.9 450.3 L118.8 450.3 L115.8 450.2 L113.0 449.8 L110.4 449.3 L107.9 448.6 L105.7 447.8 L103.6 446.9 L101.7 446.0 L100.0 444.9 L98.4 443.9 L97.1 442.8 L95.9 441.7 M185.9 374.4 L185.9 377.4 L185.7 383.9 L185.0 390.2 L184.0 396.3 L182.5 402.2 L180.7 407.9 L178.5 413.3 L176.1 418.4 L173.3 423.2 L170.3 427.7 L167.1 431.9 L163.7 435.7 L160.1 439.2 L156.4 442.3 L152.6 445.1 L148.8 447.5 L144.9 449.7 L141.0 451.4 L137.1 452.9 L133.2 454.0 L129.4 454.9 L125.7 455.5 L122.1 455.7 L118.7 455.8 L115.3 455.6 L112.2 455.2 L109.2 454.6 L106.3 453.8 L103.7 452.9 L101.3 451.9 L99.0 450.7 L97.0 449.5 L95.2 448.2 L93.5 446.9 L92.1 445.6 M191.4 374.4 L191.4 377.4 L191.1 384.3 L190.4 391.0 L189.3 397.5 L187.8 403.7 L185.8 409.8 L183.5 415.5 L180.9 420.9 L177.9 426.1 L174.7 430.9 L171.3 435.3 L167.6 439.4 L163.8 443.2 L159.8 446.6 L155.7 449.6 L151.5 452.2 L147.3 454.5 L143.1 456.5 L138.8 458.1 L134.6 459.3 L130.4 460.2 L126.4 460.9 L122.4 461.2 L118.5 461.2 L114.8 461.0 L111.3 460.6 L107.9 459.9 L104.7 459.0 L101.7 458.0 L98.9 456.8 L96.4 455.5 L94.0 454.1 L91.9 452.6 L90.0 451.0 L88.2 449.4" fill="none" stroke="#0a0a0a" stroke-width="1.36"/></g><g clip-path="url(#c3dn)"><rect x="15.5" y="337.0" width="150.0" height="139.5" fill="#808080"/><path d="M96.0 437.6 L96.0 434.6 L96.0 434.4 L96.0 434.2 L96.0 434.2 M101.5 437.6 L101.5 434.6 L101.4 434.0 L101.4 433.6 L101.3 433.2 L101.3 433.0 L101.2 432.8 L101.2 432.8 M106.9 437.6 L106.9 434.6 L106.9 433.6 L106.8 432.7 L106.7 432.0 L106.5 431.4 L106.4 431.0 L106.2 430.6 L106.2 430.5 L106.1 430.4 M112.3 437.6 L112.3 434.6 L112.3 433.2 L112.2 432.0 L112.0 430.9 L111.8 430.0 L111.5 429.2 L111.3 428.5 L111.0 428.0 L110.8 427.6 L110.6 427.3 L110.5 427.2 L110.5 427.1 M117.8 437.6 L117.8 434.6 L117.7 432.9 L117.6 431.3 L117.3 429.9 L117.0 428.6 L116.7 427.5 L116.3 426.5 L115.9 425.6 L115.5 424.9 L115.2 424.3 L114.8 423.8 L114.5 423.5 L114.3 423.3 L114.2 423.1 L114.1 423.1 M123.2 437.6 L123.2 434.6 L123.2 432.6 L123.0 430.6 L122.7 428.9 L122.3 427.2 L121.9 425.7 L121.4 424.4 L120.8 423.2 L120.3 422.2 L119.7 421.3 L119.1 420.5 L118.6 419.9 L118.2 419.4 L117.8 419.0 L117.4 418.8 L117.2 418.6 L117.0 418.5 L117.0 418.4 M128.7 437.6 L128.7 434.6 L128.6 432.1 L128.4 429.7 L128.0 427.5 L127.5 425.4 L126.9 423.6 L126.2 421.9 L125.5 420.3 L124.7 419.0 L123.9 417.8 L123.1 416.7 L122.3 415.9 L121.6 415.2 L120.9 414.6 L120.3 414.1 L119.8 413.8 L119.4 413.6 L119.1 413.4 L118.9 413.4 L118.8 413.3 M134.2 437.6 L134.2 434.6 L134.1 431.7 L133.8 429.0 L133.3 426.5 L132.8 424.1 L132.0 421.8 L131.2 419.8 L130.4 417.9 L129.4 416.2 L128.4 414.7 L127.4 413.4 L126.4 412.3 L125.4 411.3 L124.5 410.4 L123.6 409.7 L122.7 409.2 L122.0 408.8 L121.3 408.5 L120.8 408.2 L120.3 408.1 L120.0 408.0 L119.8 408.0 L119.7 408.0 M139.6 437.6 L139.6 434.6 L139.5 431.4 L139.2 428.3 L138.7 425.4 L138.0 422.7 L137.2 420.1 L136.3 417.7 L135.3 415.5 L134.1 413.5 L133.0 411.7 L131.8 410.1 L130.5 408.7 L129.3 407.4 L128.0 406.3 L126.9 405.4 L125.7 404.6 L124.6 404.0 L123.6 403.5 L122.7 403.2 L121.9 402.9 L121.2 402.7 L120.6 402.6 L120.2 402.5 L119.9 402.5 L119.7 402.5 L119.6 402.5 M145.1 437.6 L145.1 434.6 L144.9 430.9 L144.6 427.4 L144.0 424.0 L143.2 420.9 L142.2 417.9 L141.1 415.1 L139.8 412.6 L138.5 410.2 L137.1 408.1 L135.6 406.1 L134.0 404.4 L132.5 402.9 L130.9 401.6 L129.4 400.5 L127.9 399.6 L126.5 398.9 L125.2 398.3 L124.0 397.8 L122.8 397.5 L121.8 397.3 L120.9 397.1 L120.1 397.1 L119.5 397.1 L119.0 397.1 L118.7 397.2 L118.5 397.2 L118.4 397.2 M150.5 437.6 L150.5 434.6 L150.4 430.6 L150.0 426.7 L149.3 423.0 L148.4 419.5 L147.4 416.2 L146.1 413.1 L144.7 410.2 L143.2 407.5 L141.6 405.1 L139.9 402.8 L138.1 400.8 L136.3 399.1 L134.5 397.5 L132.7 396.2 L130.9 395.0 L129.2 394.1 L127.5 393.3 L125.9 392.7 L124.4 392.3 L123.0 391.9 L121.7 391.7 L120.6 391.6 L119.5 391.6 L118.6 391.7 L117.9 391.8 L117.3 391.9 L116.8 392.0 L116.5 392.1 L116.3 392.2 L116.3 392.2 M155.9 437.6 L155.9 434.6 L155.8 430.2 L155.4 426.0 L154.7 422.0 L153.7 418.1 L152.6 414.5 L151.2 411.0 L149.7 407.8 L148.0 404.8 L146.2 402.1 L144.2 399.5 L142.2 397.3 L140.2 395.2 L138.1 393.4 L136.0 391.8 L133.9 390.5 L131.9 389.3 L129.8 388.4 L127.9 387.6 L126.0 387.1 L124.3 386.6 L122.6 386.4 L121.1 386.2 L119.7 386.2 L118.4 386.2 L117.2 386.4 L116.3 386.5 L115.4 386.7 L114.7 387.0 L114.1 387.2 L113.7 387.4 L113.4 387.6 L113.3 387.7 L113.2 387.7 M161.4 437.6 L161.4 434.6 L161.2 429.8 L160.8 425.2 L160.0 420.7 L158.9 416.5 L157.6 412.4 L156.1 408.6 L154.4 405.0 L152.5 401.7 L150.4 398.6 L148.2 395.8 L146.0 393.3 L143.6 391.0 L141.2 388.9 L138.8 387.1 L136.4 385.6 L134.0 384.3 L131.6 383.2 L129.3 382.4 L127.1 381.7 L124.9 381.2 L122.9 380.9 L121.0 380.8 L119.2 380.7 L117.6 380.8 L116.1 381.0 L114.8 381.3 L113.6 381.6 L112.6 382.0 L111.7 382.3 L111.0 382.7 L110.4 383.0 L109.9 383.4 L109.6 383.6 L109.4 383.8 M166.8 437.6 L166.8 434.6 L166.7 429.4 L166.1 424.4 L165.3 419.6 L164.2 415.0 L162.7 410.6 L161.1 406.4 L159.2 402.5 L157.1 398.8 L154.8 395.5 L152.4 392.3 L149.9 389.5 L147.3 386.9 L144.6 384.7 L141.9 382.6 L139.1 380.9 L136.4 379.4 L133.7 378.2 L131.0 377.2 L128.4 376.4 L125.9 375.9 L123.5 375.5 L121.2 375.3 L119.1 375.3 L117.1 375.4 L115.2 375.6 L113.5 376.0 L112.0 376.4 L110.6 376.9 L109.4 377.4 L108.3 377.9 L107.4 378.5 L106.7 379.0 L106.0 379.5 L105.6 379.9 M172.3 437.6 L172.3 434.6 L172.1 429.1 L171.5 423.7 L170.6 418.5 L169.4 413.5 L167.9 408.7 L166.1 404.2 L164.0 400.0 L161.7 396.0 L159.3 392.3 L156.6 388.9 L153.8 385.7 L150.9 382.9 L148.0 380.4 L144.9 378.1 L141.9 376.2 L138.8 374.5 L135.8 373.1 L132.8 372.0 L129.8 371.1 L126.9 370.5 L124.2 370.1 L121.5 369.9 L119.0 369.8 L116.6 370.0 L114.3 370.3 L112.3 370.7 L110.4 371.2 L108.6 371.8 L107.1 372.5 L105.7 373.2 L104.4 373.9 L103.4 374.7 L102.5 375.4 L101.7 376.1 M177.8 437.6 L177.8 434.6 L177.5 428.7 L176.9 422.9 L176.0 417.3 L174.6 412.0 L173.0 406.9 L171.0 402.0 L168.8 397.4 L166.4 393.1 L163.7 389.1 L160.8 385.4 L157.8 382.0 L154.6 378.9 L151.4 376.1 L148.0 373.7 L144.6 371.5 L141.2 369.7 L137.9 368.1 L134.5 366.9 L131.2 365.9 L127.9 365.1 L124.8 364.7 L121.8 364.4 L118.8 364.4 L116.1 364.5 L113.5 364.9 L111.0 365.4 L108.7 366.0 L106.7 366.7 L104.7 367.5 L103.0 368.4 L101.5 369.3 L100.1 370.3 L98.9 371.3 L97.9 372.2 M183.2 437.6 L183.2 434.6 L183.0 428.3 L182.3 422.2 L181.3 416.2 L179.9 410.5 L178.1 405.0 L176.0 399.8 L173.6 394.9 L171.0 390.2 L168.1 385.9 L165.0 381.9 L161.7 378.2 L158.3 374.9 L154.7 371.8 L151.1 369.2 L147.4 366.8 L143.7 364.8 L139.9 363.1 L136.2 361.7 L132.5 360.6 L128.9 359.8 L125.4 359.3 L122.0 359.0 L118.7 358.9 L115.6 359.1 L112.6 359.5 L109.8 360.1 L107.1 360.8 L104.7 361.6 L102.4 362.6 L100.4 363.7 L98.5 364.8 L96.8 366.0 L95.3 367.2 L94.0 368.4 M188.7 437.6 L188.7 434.6 L188.4 427.9 L187.7 421.4 L186.6 415.1 L185.1 409.0 L183.3 403.2 L181.0 397.6 L178.5 392.3 L175.6 387.4 L172.5 382.7 L169.2 378.4 L165.7 374.4 L162.0 370.8 L158.1 367.6 L154.2 364.7 L150.2 362.1 L146.1 359.9 L142.0 358.0 L137.9 356.5 L133.9 355.3 L129.9 354.4 L126.0 353.8 L122.3 353.5 L118.6 353.5 L115.1 353.7 L111.7 354.1 L108.5 354.8 L105.5 355.6 L102.7 356.5 L100.1 357.7 L97.7 358.9 L95.5 360.2 L93.5 361.6 L91.7 363.1 L90.2 364.5 M194.1 437.6 L194.1 434.6 L193.9 427.5 L193.1 420.7 L192.0 414.0 L190.4 407.5 L188.4 401.3 L186.0 395.4 L183.3 389.8 L180.3 384.5 L177.0 379.5 L173.4 374.9 L169.6 370.7 L165.6 366.8 L161.5 363.3 L157.3 360.2 L152.9 357.4 L148.5 355.0 L144.1 353.0 L139.7 351.3 L135.3 350.0 L130.9 349.1 L126.7 348.4 L122.5 348.1 L118.5 348.0 L114.6 348.3 L110.8 348.7 L107.3 349.4 L103.9 350.4 L100.7 351.5 L97.8 352.7 L95.0 354.1 L92.5 355.7 L90.2 357.3 L88.2 358.9 L86.3 360.7" fill="none" stroke="#c2c2c2" stroke-width="2.72"/><path d="M96.0 437.6 L96.0 434.6 L96.0 434.4 L96.0 434.2 L96.0 434.2 M101.5 437.6 L101.5 434.6 L101.4 434.0 L101.4 433.6 L101.3 433.2 L101.3 433.0 L101.2 432.8 L101.2 432.8 M106.9 437.6 L106.9 434.6 L106.9 433.6 L106.8 432.7 L106.7 432.0 L106.5 431.4 L106.4 431.0 L106.2 430.6 L106.2 430.5 L106.1 430.4 M112.3 437.6 L112.3 434.6 L112.3 433.2 L112.2 432.0 L112.0 430.9 L111.8 430.0 L111.5 429.2 L111.3 428.5 L111.0 428.0 L110.8 427.6 L110.6 427.3 L110.5 427.2 L110.5 427.1 M117.8 437.6 L117.8 434.6 L117.7 432.9 L117.6 431.3 L117.3 429.9 L117.0 428.6 L116.7 427.5 L116.3 426.5 L115.9 425.6 L115.5 424.9 L115.2 424.3 L114.8 423.8 L114.5 423.5 L114.3 423.3 L114.2 423.1 L114.1 423.1 M123.2 437.6 L123.2 434.6 L123.2 432.6 L123.0 430.6 L122.7 428.9 L122.3 427.2 L121.9 425.7 L121.4 424.4 L120.8 423.2 L120.3 422.2 L119.7 421.3 L119.1 420.5 L118.6 419.9 L118.2 419.4 L117.8 419.0 L117.4 418.8 L117.2 418.6 L117.0 418.5 L117.0 418.4 M128.7 437.6 L128.7 434.6 L128.6 432.1 L128.4 429.7 L128.0 427.5 L127.5 425.4 L126.9 423.6 L126.2 421.9 L125.5 420.3 L124.7 419.0 L123.9 417.8 L123.1 416.7 L122.3 415.9 L121.6 415.2 L120.9 414.6 L120.3 414.1 L119.8 413.8 L119.4 413.6 L119.1 413.4 L118.9 413.4 L118.8 413.3 M134.2 437.6 L134.2 434.6 L134.1 431.7 L133.8 429.0 L133.3 426.5 L132.8 424.1 L132.0 421.8 L131.2 419.8 L130.4 417.9 L129.4 416.2 L128.4 414.7 L127.4 413.4 L126.4 412.3 L125.4 411.3 L124.5 410.4 L123.6 409.7 L122.7 409.2 L122.0 408.8 L121.3 408.5 L120.8 408.2 L120.3 408.1 L120.0 408.0 L119.8 408.0 L119.7 408.0 M139.6 437.6 L139.6 434.6 L139.5 431.4 L139.2 428.3 L138.7 425.4 L138.0 422.7 L137.2 420.1 L136.3 417.7 L135.3 415.5 L134.1 413.5 L133.0 411.7 L131.8 410.1 L130.5 408.7 L129.3 407.4 L128.0 406.3 L126.9 405.4 L125.7 404.6 L124.6 404.0 L123.6 403.5 L122.7 403.2 L121.9 402.9 L121.2 402.7 L120.6 402.6 L120.2 402.5 L119.9 402.5 L119.7 402.5 L119.6 402.5 M145.1 437.6 L145.1 434.6 L144.9 430.9 L144.6 427.4 L144.0 424.0 L143.2 420.9 L142.2 417.9 L141.1 415.1 L139.8 412.6 L138.5 410.2 L137.1 408.1 L135.6 406.1 L134.0 404.4 L132.5 402.9 L130.9 401.6 L129.4 400.5 L127.9 399.6 L126.5 398.9 L125.2 398.3 L124.0 397.8 L122.8 397.5 L121.8 397.3 L120.9 397.1 L120.1 397.1 L119.5 397.1 L119.0 397.1 L118.7 397.2 L118.5 397.2 L118.4 397.2 M150.5 437.6 L150.5 434.6 L150.4 430.6 L150.0 426.7 L149.3 423.0 L148.4 419.5 L147.4 416.2 L146.1 413.1 L144.7 410.2 L143.2 407.5 L141.6 405.1 L139.9 402.8 L138.1 400.8 L136.3 399.1 L134.5 397.5 L132.7 396.2 L130.9 395.0 L129.2 394.1 L127.5 393.3 L125.9 392.7 L124.4 392.3 L123.0 391.9 L121.7 391.7 L120.6 391.6 L119.5 391.6 L118.6 391.7 L117.9 391.8 L117.3 391.9 L116.8 392.0 L116.5 392.1 L116.3 392.2 L116.3 392.2 M155.9 437.6 L155.9 434.6 L155.8 430.2 L155.4 426.0 L154.7 422.0 L153.7 418.1 L152.6 414.5 L151.2 411.0 L149.7 407.8 L148.0 404.8 L146.2 402.1 L144.2 399.5 L142.2 397.3 L140.2 395.2 L138.1 393.4 L136.0 391.8 L133.9 390.5 L131.9 389.3 L129.8 388.4 L127.9 387.6 L126.0 387.1 L124.3 386.6 L122.6 386.4 L121.1 386.2 L119.7 386.2 L118.4 386.2 L117.2 386.4 L116.3 386.5 L115.4 386.7 L114.7 387.0 L114.1 387.2 L113.7 387.4 L113.4 387.6 L113.3 387.7 L113.2 387.7 M161.4 437.6 L161.4 434.6 L161.2 429.8 L160.8 425.2 L160.0 420.7 L158.9 416.5 L157.6 412.4 L156.1 408.6 L154.4 405.0 L152.5 401.7 L150.4 398.6 L148.2 395.8 L146.0 393.3 L143.6 391.0 L141.2 388.9 L138.8 387.1 L136.4 385.6 L134.0 384.3 L131.6 383.2 L129.3 382.4 L127.1 381.7 L124.9 381.2 L122.9 380.9 L121.0 380.8 L119.2 380.7 L117.6 380.8 L116.1 381.0 L114.8 381.3 L113.6 381.6 L112.6 382.0 L111.7 382.3 L111.0 382.7 L110.4 383.0 L109.9 383.4 L109.6 383.6 L109.4 383.8 M166.8 437.6 L166.8 434.6 L166.7 429.4 L166.1 424.4 L165.3 419.6 L164.2 415.0 L162.7 410.6 L161.1 406.4 L159.2 402.5 L157.1 398.8 L154.8 395.5 L152.4 392.3 L149.9 389.5 L147.3 386.9 L144.6 384.7 L141.9 382.6 L139.1 380.9 L136.4 379.4 L133.7 378.2 L131.0 377.2 L128.4 376.4 L125.9 375.9 L123.5 375.5 L121.2 375.3 L119.1 375.3 L117.1 375.4 L115.2 375.6 L113.5 376.0 L112.0 376.4 L110.6 376.9 L109.4 377.4 L108.3 377.9 L107.4 378.5 L106.7 379.0 L106.0 379.5 L105.6 379.9 M172.3 437.6 L172.3 434.6 L172.1 429.1 L171.5 423.7 L170.6 418.5 L169.4 413.5 L167.9 408.7 L166.1 404.2 L164.0 400.0 L161.7 396.0 L159.3 392.3 L156.6 388.9 L153.8 385.7 L150.9 382.9 L148.0 380.4 L144.9 378.1 L141.9 376.2 L138.8 374.5 L135.8 373.1 L132.8 372.0 L129.8 371.1 L126.9 370.5 L124.2 370.1 L121.5 369.9 L119.0 369.8 L116.6 370.0 L114.3 370.3 L112.3 370.7 L110.4 371.2 L108.6 371.8 L107.1 372.5 L105.7 373.2 L104.4 373.9 L103.4 374.7 L102.5 375.4 L101.7 376.1 M177.8 437.6 L177.8 434.6 L177.5 428.7 L176.9 422.9 L176.0 417.3 L174.6 412.0 L173.0 406.9 L171.0 402.0 L168.8 397.4 L166.4 393.1 L163.7 389.1 L160.8 385.4 L157.8 382.0 L154.6 378.9 L151.4 376.1 L148.0 373.7 L144.6 371.5 L141.2 369.7 L137.9 368.1 L134.5 366.9 L131.2 365.9 L127.9 365.1 L124.8 364.7 L121.8 364.4 L118.8 364.4 L116.1 364.5 L113.5 364.9 L111.0 365.4 L108.7 366.0 L106.7 366.7 L104.7 367.5 L103.0 368.4 L101.5 369.3 L100.1 370.3 L98.9 371.3 L97.9 372.2 M183.2 437.6 L183.2 434.6 L183.0 428.3 L182.3 422.2 L181.3 416.2 L179.9 410.5 L178.1 405.0 L176.0 399.8 L173.6 394.9 L171.0 390.2 L168.1 385.9 L165.0 381.9 L161.7 378.2 L158.3 374.9 L154.7 371.8 L151.1 369.2 L147.4 366.8 L143.7 364.8 L139.9 363.1 L136.2 361.7 L132.5 360.6 L128.9 359.8 L125.4 359.3 L122.0 359.0 L118.7 358.9 L115.6 359.1 L112.6 359.5 L109.8 360.1 L107.1 360.8 L104.7 361.6 L102.4 362.6 L100.4 363.7 L98.5 364.8 L96.8 366.0 L95.3 367.2 L94.0 368.4 M188.7 437.6 L188.7 434.6 L188.4 427.9 L187.7 421.4 L186.6 415.1 L185.1 409.0 L183.3 403.2 L181.0 397.6 L178.5 392.3 L175.6 387.4 L172.5 382.7 L169.2 378.4 L165.7 374.4 L162.0 370.8 L158.1 367.6 L154.2 364.7 L150.2 362.1 L146.1 359.9 L142.0 358.0 L137.9 356.5 L133.9 355.3 L129.9 354.4 L126.0 353.8 L122.3 353.5 L118.6 353.5 L115.1 353.7 L111.7 354.1 L108.5 354.8 L105.5 355.6 L102.7 356.5 L100.1 357.7 L97.7 358.9 L95.5 360.2 L93.5 361.6 L91.7 363.1 L90.2 364.5 M194.1 437.6 L194.1 434.6 L193.9 427.5 L193.1 420.7 L192.0 414.0 L190.4 407.5 L188.4 401.3 L186.0 395.4 L183.3 389.8 L180.3 384.5 L177.0 379.5 L173.4 374.9 L169.6 370.7 L165.6 366.8 L161.5 363.3 L157.3 360.2 L152.9 357.4 L148.5 355.0 L144.1 353.0 L139.7 351.3 L135.3 350.0 L130.9 349.1 L126.7 348.4 L122.5 348.1 L118.5 348.0 L114.6 348.3 L110.8 348.7 L107.3 349.4 L103.9 350.4 L100.7 351.5 L97.8 352.7 L95.0 354.1 L92.5 355.7 L90.2 357.3 L88.2 358.9 L86.3 360.7" fill="none" stroke="#f5f5f5" stroke-width="1.36"/><path d="M93.3 437.6 L93.3 434.6 L93.3 434.5 L93.3 434.5 M98.7 437.6 L98.7 434.6 L98.7 434.2 L98.7 433.9 L98.7 433.7 L98.6 433.6 M104.2 437.6 L104.2 434.6 L104.2 433.8 L104.1 433.2 L104.0 432.6 L103.9 432.2 L103.8 431.9 L103.8 431.8 L103.7 431.7 M109.6 437.6 L109.6 434.6 L109.6 433.5 L109.5 432.5 L109.4 431.6 L109.2 430.8 L109.0 430.2 L108.8 429.7 L108.6 429.3 L108.5 429.1 L108.4 428.9 L108.4 428.9 M115.1 437.6 L115.1 434.6 L115.0 433.0 L114.9 431.6 L114.6 430.3 L114.4 429.1 L114.0 428.1 L113.7 427.3 L113.4 426.6 L113.1 426.1 L112.8 425.7 L112.6 425.4 L112.4 425.2 L112.4 425.2 M120.5 437.6 L120.5 434.6 L120.5 432.7 L120.3 430.9 L120.0 429.2 L119.6 427.7 L119.2 426.4 L118.7 425.2 L118.3 424.2 L117.8 423.3 L117.3 422.6 L116.8 422.0 L116.4 421.5 L116.1 421.2 L115.9 421.0 L115.7 420.9 L115.7 420.8 M126.0 437.6 L126.0 434.6 L125.9 432.3 L125.7 430.2 L125.3 428.2 L124.9 426.3 L124.4 424.7 L123.8 423.1 L123.1 421.8 L122.5 420.6 L121.8 419.5 L121.1 418.7 L120.5 417.9 L119.9 417.3 L119.4 416.8 L118.9 416.5 L118.5 416.2 L118.3 416.1 L118.1 416.0 L118.0 415.9 M131.4 437.6 L131.4 434.6 L131.3 432.0 L131.1 429.5 L130.7 427.1 L130.2 425.0 L129.5 422.9 L128.8 421.1 L128.0 419.4 L127.2 417.9 L126.3 416.5 L125.5 415.3 L124.6 414.3 L123.8 413.4 L122.9 412.7 L122.2 412.1 L121.5 411.6 L120.9 411.3 L120.4 411.0 L120.0 410.8 L119.7 410.7 L119.5 410.7 L119.4 410.7 M136.9 437.6 L136.9 434.6 L136.8 431.5 L136.5 428.6 L136.0 425.8 L135.3 423.2 L134.5 420.7 L133.6 418.5 L132.7 416.4 L131.6 414.6 L130.5 412.9 L129.3 411.5 L128.2 410.2 L127.1 409.1 L126.0 408.1 L124.9 407.4 L123.9 406.7 L123.0 406.2 L122.2 405.9 L121.5 405.6 L120.9 405.4 L120.4 405.3 L120.1 405.3 L119.9 405.3 L119.8 405.2 M142.3 437.6 L142.3 434.6 L142.2 431.2 L141.9 427.9 L141.3 424.7 L140.6 421.8 L139.7 419.0 L138.7 416.4 L137.6 414.1 L136.3 411.9 L135.0 409.9 L133.7 408.1 L132.3 406.6 L130.9 405.2 L129.5 404.0 L128.2 403.0 L126.8 402.1 L125.6 401.4 L124.4 400.9 L123.4 400.5 L122.4 400.2 L121.5 400.0 L120.8 399.9 L120.2 399.8 L119.7 399.8 L119.4 399.8 L119.2 399.8 L119.1 399.8 M147.8 437.6 L147.8 434.6 L147.6 430.8 L147.3 427.2 L146.7 423.7 L145.9 420.4 L144.9 417.3 L143.7 414.4 L142.5 411.7 L141.1 409.2 L139.6 406.9 L138.0 404.8 L136.4 403.0 L134.7 401.3 L133.1 399.9 L131.4 398.6 L129.8 397.6 L128.3 396.7 L126.8 396.0 L125.4 395.4 L124.0 395.0 L122.8 394.7 L121.7 394.5 L120.7 394.4 L119.8 394.3 L119.1 394.4 L118.5 394.4 L118.0 394.5 L117.7 394.6 L117.5 394.6 L117.5 394.7 M153.2 437.6 L153.2 434.6 L153.1 430.3 L152.6 426.2 L152.0 422.3 L151.0 418.6 L149.9 415.0 L148.5 411.7 L147.0 408.7 L145.4 405.8 L143.6 403.2 L141.8 400.8 L139.8 398.7 L137.9 396.8 L135.9 395.1 L133.9 393.7 L131.9 392.5 L130.0 391.5 L128.2 390.7 L126.4 390.0 L124.7 389.5 L123.1 389.2 L121.7 389.0 L120.4 388.9 L119.2 388.9 L118.1 389.0 L117.2 389.1 L116.5 389.3 L115.9 389.5 L115.4 389.6 L115.1 389.8 L114.9 389.9 L114.8 389.9 M158.7 437.6 L158.7 434.6 L158.5 430.0 L158.1 425.6 L157.3 421.3 L156.3 417.2 L155.1 413.4 L153.6 409.7 L152.0 406.3 L150.1 403.1 L148.2 400.2 L146.1 397.6 L144.0 395.1 L141.8 393.0 L139.5 391.1 L137.2 389.4 L135.0 387.9 L132.7 386.7 L130.6 385.7 L128.4 384.9 L126.4 384.3 L124.4 383.9 L122.6 383.6 L120.9 383.5 L119.3 383.5 L117.8 383.5 L116.5 383.7 L115.4 383.9 L114.4 384.2 L113.5 384.5 L112.8 384.8 L112.3 385.1 L111.9 385.3 L111.6 385.5 L111.4 385.7 L111.4 385.7 M164.1 437.6 L164.1 434.6 L164.0 429.6 L163.5 424.8 L162.6 420.2 L161.5 415.7 L160.2 411.5 L158.6 407.5 L156.8 403.8 L154.8 400.3 L152.6 397.0 L150.3 394.1 L147.9 391.4 L145.4 389.0 L142.9 386.8 L140.3 384.9 L137.7 383.2 L135.2 381.9 L132.6 380.7 L130.2 379.8 L127.7 379.1 L125.4 378.5 L123.2 378.2 L121.1 378.0 L119.2 378.0 L117.3 378.1 L115.7 378.3 L114.1 378.6 L112.8 379.0 L111.6 379.4 L110.5 379.9 L109.6 380.3 L108.9 380.8 L108.3 381.2 L107.8 381.6 L107.5 381.9 M169.6 437.6 L169.6 434.6 L169.4 429.2 L168.8 424.0 L168.0 419.0 L166.8 414.2 L165.3 409.6 L163.6 405.3 L161.6 401.2 L159.4 397.4 L157.0 393.9 L154.5 390.6 L151.9 387.6 L149.1 384.9 L146.3 382.5 L143.4 380.4 L140.5 378.6 L137.6 377.0 L134.7 375.7 L131.9 374.6 L129.1 373.8 L126.4 373.2 L123.8 372.8 L121.4 372.6 L119.0 372.6 L116.8 372.7 L114.8 372.9 L112.9 373.3 L111.2 373.8 L109.6 374.3 L108.2 374.9 L107.0 375.6 L105.9 376.2 L105.0 376.8 L104.3 377.4 L103.7 378.0 M175.0 437.6 L175.0 434.6 L174.8 428.9 L174.2 423.3 L173.3 417.9 L172.0 412.7 L170.4 407.8 L168.6 403.1 L166.4 398.7 L164.0 394.5 L161.5 390.7 L158.7 387.1 L155.8 383.9 L152.8 380.9 L149.7 378.2 L146.5 375.9 L143.3 373.9 L140.0 372.1 L136.8 370.6 L133.6 369.4 L130.5 368.5 L127.4 367.8 L124.5 367.4 L121.6 367.1 L118.9 367.1 L116.3 367.3 L113.9 367.6 L111.6 368.0 L109.6 368.6 L107.6 369.3 L105.9 370.0 L104.3 370.8 L102.9 371.6 L101.7 372.5 L100.7 373.3 L99.8 374.2 M180.5 437.6 L180.5 434.6 L180.3 428.5 L179.6 422.5 L178.6 416.8 L177.3 411.2 L175.6 405.9 L173.5 400.9 L171.2 396.1 L168.7 391.7 L165.9 387.5 L162.9 383.6 L159.8 380.1 L156.5 376.9 L153.1 374.0 L149.6 371.4 L146.0 369.2 L142.5 367.2 L138.9 365.6 L135.4 364.3 L131.9 363.2 L128.4 362.5 L125.1 362.0 L121.9 361.7 L118.8 361.7 L115.8 361.8 L113.0 362.2 L110.4 362.7 L107.9 363.4 L105.7 364.2 L103.6 365.1 L101.7 366.0 L100.0 367.1 L98.4 368.1 L97.1 369.2 L95.9 370.3 M185.9 437.6 L185.9 434.6 L185.7 428.1 L185.0 421.8 L184.0 415.7 L182.5 409.8 L180.7 404.1 L178.5 398.7 L176.1 393.6 L173.3 388.8 L170.3 384.3 L167.1 380.1 L163.7 376.3 L160.1 372.8 L156.4 369.7 L152.6 366.9 L148.8 364.5 L144.9 362.3 L141.0 360.6 L137.1 359.1 L133.2 358.0 L129.4 357.1 L125.7 356.5 L122.1 356.3 L118.7 356.2 L115.3 356.4 L112.2 356.8 L109.2 357.4 L106.3 358.2 L103.7 359.1 L101.3 360.1 L99.0 361.3 L97.0 362.5 L95.2 363.8 L93.5 365.1 L92.1 366.4 M191.4 437.6 L191.4 434.6 L191.1 427.7 L190.4 421.0 L189.3 414.5 L187.8 408.3 L185.8 402.2 L183.5 396.5 L180.9 391.1 L177.9 385.9 L174.7 381.1 L171.3 376.7 L167.6 372.6 L163.8 368.8 L159.8 365.4 L155.7 362.4 L151.5 359.8 L147.3 357.5 L143.1 355.5 L138.8 353.9 L134.6 352.7 L130.4 351.8 L126.4 351.1 L122.4 350.8 L118.5 350.8 L114.8 351.0 L111.3 351.4 L107.9 352.1 L104.7 353.0 L101.7 354.0 L98.9 355.2 L96.4 356.5 L94.0 357.9 L91.9 359.4 L90.0 361.0 L88.2 362.6" fill="none" stroke="#3d3d3d" stroke-width="2.72"/><path d="M93.3 437.6 L93.3 434.6 L93.3 434.5 L93.3 434.5 M98.7 437.6 L98.7 434.6 L98.7 434.2 L98.7 433.9 L98.7 433.7 L98.6 433.6 M104.2 437.6 L104.2 434.6 L104.2 433.8 L104.1 433.2 L104.0 432.6 L103.9 432.2 L103.8 431.9 L103.8 431.8 L103.7 431.7 M109.6 437.6 L109.6 434.6 L109.6 433.5 L109.5 432.5 L109.4 431.6 L109.2 430.8 L109.0 430.2 L108.8 429.7 L108.6 429.3 L108.5 429.1 L108.4 428.9 L108.4 428.9 M115.1 437.6 L115.1 434.6 L115.0 433.0 L114.9 431.6 L114.6 430.3 L114.4 429.1 L114.0 428.1 L113.7 427.3 L113.4 426.6 L113.1 426.1 L112.8 425.7 L112.6 425.4 L112.4 425.2 L112.4 425.2 M120.5 437.6 L120.5 434.6 L120.5 432.7 L120.3 430.9 L120.0 429.2 L119.6 427.7 L119.2 426.4 L118.7 425.2 L118.3 424.2 L117.8 423.3 L117.3 422.6 L116.8 422.0 L116.4 421.5 L116.1 421.2 L115.9 421.0 L115.7 420.9 L115.7 420.8 M126.0 437.6 L126.0 434.6 L125.9 432.3 L125.7 430.2 L125.3 428.2 L124.9 426.3 L124.4 424.7 L123.8 423.1 L123.1 421.8 L122.5 420.6 L121.8 419.5 L121.1 418.7 L120.5 417.9 L119.9 417.3 L119.4 416.8 L118.9 416.5 L118.5 416.2 L118.3 416.1 L118.1 416.0 L118.0 415.9 M131.4 437.6 L131.4 434.6 L131.3 432.0 L131.1 429.5 L130.7 427.1 L130.2 425.0 L129.5 422.9 L128.8 421.1 L128.0 419.4 L127.2 417.9 L126.3 416.5 L125.5 415.3 L124.6 414.3 L123.8 413.4 L122.9 412.7 L122.2 412.1 L121.5 411.6 L120.9 411.3 L120.4 411.0 L120.0 410.8 L119.7 410.7 L119.5 410.7 L119.4 410.7 M136.9 437.6 L136.9 434.6 L136.8 431.5 L136.5 428.6 L136.0 425.8 L135.3 423.2 L134.5 420.7 L133.6 418.5 L132.7 416.4 L131.6 414.6 L130.5 412.9 L129.3 411.5 L128.2 410.2 L127.1 409.1 L126.0 408.1 L124.9 407.4 L123.9 406.7 L123.0 406.2 L122.2 405.9 L121.5 405.6 L120.9 405.4 L120.4 405.3 L120.1 405.3 L119.9 405.3 L119.8 405.2 M142.3 437.6 L142.3 434.6 L142.2 431.2 L141.9 427.9 L141.3 424.7 L140.6 421.8 L139.7 419.0 L138.7 416.4 L137.6 414.1 L136.3 411.9 L135.0 409.9 L133.7 408.1 L132.3 406.6 L130.9 405.2 L129.5 404.0 L128.2 403.0 L126.8 402.1 L125.6 401.4 L124.4 400.9 L123.4 400.5 L122.4 400.2 L121.5 400.0 L120.8 399.9 L120.2 399.8 L119.7 399.8 L119.4 399.8 L119.2 399.8 L119.1 399.8 M147.8 437.6 L147.8 434.6 L147.6 430.8 L147.3 427.2 L146.7 423.7 L145.9 420.4 L144.9 417.3 L143.7 414.4 L142.5 411.7 L141.1 409.2 L139.6 406.9 L138.0 404.8 L136.4 403.0 L134.7 401.3 L133.1 399.9 L131.4 398.6 L129.8 397.6 L128.3 396.7 L126.8 396.0 L125.4 395.4 L124.0 395.0 L122.8 394.7 L121.7 394.5 L120.7 394.4 L119.8 394.3 L119.1 394.4 L118.5 394.4 L118.0 394.5 L117.7 394.6 L117.5 394.6 L117.5 394.7 M153.2 437.6 L153.2 434.6 L153.1 430.3 L152.6 426.2 L152.0 422.3 L151.0 418.6 L149.9 415.0 L148.5 411.7 L147.0 408.7 L145.4 405.8 L143.6 403.2 L141.8 400.8 L139.8 398.7 L137.9 396.8 L135.9 395.1 L133.9 393.7 L131.9 392.5 L130.0 391.5 L128.2 390.7 L126.4 390.0 L124.7 389.5 L123.1 389.2 L121.7 389.0 L120.4 388.9 L119.2 388.9 L118.1 389.0 L117.2 389.1 L116.5 389.3 L115.9 389.5 L115.4 389.6 L115.1 389.8 L114.9 389.9 L114.8 389.9 M158.7 437.6 L158.7 434.6 L158.5 430.0 L158.1 425.6 L157.3 421.3 L156.3 417.2 L155.1 413.4 L153.6 409.7 L152.0 406.3 L150.1 403.1 L148.2 400.2 L146.1 397.6 L144.0 395.1 L141.8 393.0 L139.5 391.1 L137.2 389.4 L135.0 387.9 L132.7 386.7 L130.6 385.7 L128.4 384.9 L126.4 384.3 L124.4 383.9 L122.6 383.6 L120.9 383.5 L119.3 383.5 L117.8 383.5 L116.5 383.7 L115.4 383.9 L114.4 384.2 L113.5 384.5 L112.8 384.8 L112.3 385.1 L111.9 385.3 L111.6 385.5 L111.4 385.7 L111.4 385.7 M164.1 437.6 L164.1 434.6 L164.0 429.6 L163.5 424.8 L162.6 420.2 L161.5 415.7 L160.2 411.5 L158.6 407.5 L156.8 403.8 L154.8 400.3 L152.6 397.0 L150.3 394.1 L147.9 391.4 L145.4 389.0 L142.9 386.8 L140.3 384.9 L137.7 383.2 L135.2 381.9 L132.6 380.7 L130.2 379.8 L127.7 379.1 L125.4 378.5 L123.2 378.2 L121.1 378.0 L119.2 378.0 L117.3 378.1 L115.7 378.3 L114.1 378.6 L112.8 379.0 L111.6 379.4 L110.5 379.9 L109.6 380.3 L108.9 380.8 L108.3 381.2 L107.8 381.6 L107.5 381.9 M169.6 437.6 L169.6 434.6 L169.4 429.2 L168.8 424.0 L168.0 419.0 L166.8 414.2 L165.3 409.6 L163.6 405.3 L161.6 401.2 L159.4 397.4 L157.0 393.9 L154.5 390.6 L151.9 387.6 L149.1 384.9 L146.3 382.5 L143.4 380.4 L140.5 378.6 L137.6 377.0 L134.7 375.7 L131.9 374.6 L129.1 373.8 L126.4 373.2 L123.8 372.8 L121.4 372.6 L119.0 372.6 L116.8 372.7 L114.8 372.9 L112.9 373.3 L111.2 373.8 L109.6 374.3 L108.2 374.9 L107.0 375.6 L105.9 376.2 L105.0 376.8 L104.3 377.4 L103.7 378.0 M175.0 437.6 L175.0 434.6 L174.8 428.9 L174.2 423.3 L173.3 417.9 L172.0 412.7 L170.4 407.8 L168.6 403.1 L166.4 398.7 L164.0 394.5 L161.5 390.7 L158.7 387.1 L155.8 383.9 L152.8 380.9 L149.7 378.2 L146.5 375.9 L143.3 373.9 L140.0 372.1 L136.8 370.6 L133.6 369.4 L130.5 368.5 L127.4 367.8 L124.5 367.4 L121.6 367.1 L118.9 367.1 L116.3 367.3 L113.9 367.6 L111.6 368.0 L109.6 368.6 L107.6 369.3 L105.9 370.0 L104.3 370.8 L102.9 371.6 L101.7 372.5 L100.7 373.3 L99.8 374.2 M180.5 437.6 L180.5 434.6 L180.3 428.5 L179.6 422.5 L178.6 416.8 L177.3 411.2 L175.6 405.9 L173.5 400.9 L171.2 396.1 L168.7 391.7 L165.9 387.5 L162.9 383.6 L159.8 380.1 L156.5 376.9 L153.1 374.0 L149.6 371.4 L146.0 369.2 L142.5 367.2 L138.9 365.6 L135.4 364.3 L131.9 363.2 L128.4 362.5 L125.1 362.0 L121.9 361.7 L118.8 361.7 L115.8 361.8 L113.0 362.2 L110.4 362.7 L107.9 363.4 L105.7 364.2 L103.6 365.1 L101.7 366.0 L100.0 367.1 L98.4 368.1 L97.1 369.2 L95.9 370.3 M185.9 437.6 L185.9 434.6 L185.7 428.1 L185.0 421.8 L184.0 415.7 L182.5 409.8 L180.7 404.1 L178.5 398.7 L176.1 393.6 L173.3 388.8 L170.3 384.3 L167.1 380.1 L163.7 376.3 L160.1 372.8 L156.4 369.7 L152.6 366.9 L148.8 364.5 L144.9 362.3 L141.0 360.6 L137.1 359.1 L133.2 358.0 L129.4 357.1 L125.7 356.5 L122.1 356.3 L118.7 356.2 L115.3 356.4 L112.2 356.8 L109.2 357.4 L106.3 358.2 L103.7 359.1 L101.3 360.1 L99.0 361.3 L97.0 362.5 L95.2 363.8 L93.5 365.1 L92.1 366.4 M191.4 437.6 L191.4 434.6 L191.1 427.7 L190.4 421.0 L189.3 414.5 L187.8 408.3 L185.8 402.2 L183.5 396.5 L180.9 391.1 L177.9 385.9 L174.7 381.1 L171.3 376.7 L167.6 372.6 L163.8 368.8 L159.8 365.4 L155.7 362.4 L151.5 359.8 L147.3 357.5 L143.1 355.5 L138.8 353.9 L134.6 352.7 L130.4 351.8 L126.4 351.1 L122.4 350.8 L118.5 350.8 L114.8 351.0 L111.3 351.4 L107.9 352.1 L104.7 353.0 L101.7 354.0 L98.9 355.2 L96.4 356.5 L94.0 357.9 L91.9 359.4 L90.0 361.0 L88.2 362.6" fill="none" stroke="#0a0a0a" stroke-width="1.36"/></g><polygon points="91.20,406.00 185.09,229.41 213.06,247.41 237.65,269.80 258.20,295.95 274.13,325.14 285.00,356.57 290.51,389.37 290.51,422.63 285.00,455.43 274.13,486.86 258.20,516.05 237.65,542.20 213.06,564.59 185.09,582.59" fill="#808080" fill-opacity="0.010"/><polygon points="91.20,406.00 191.20,232.79 217.69,251.08 240.90,273.38 260.24,299.11 275.20,327.61 285.39,358.14 290.55,389.91 290.55,422.09 285.39,453.86 275.20,484.39 260.24,512.89 240.90,538.62 217.69,560.92 191.20,579.21" fill="#808080" fill-opacity="0.020"/><polygon points="91.20,406.00 197.18,236.39 224.16,256.59 247.36,281.04 266.12,309.04 279.92,339.79 288.36,372.42 291.20,406.00 288.36,439.58 279.92,472.21 266.12,502.96 247.36,530.96 224.16,555.41 197.18,575.61" fill="#808080" fill-opacity="0.021"/><polygon points="91.20,406.00 203.04,240.19 228.45,260.53 250.22,284.71 267.79,312.11 280.68,341.99 288.55,373.56 291.20,406.00 288.55,438.44 280.68,470.01 267.79,499.89 250.22,527.29 228.45,551.47 203.04,571.81" fill="#808080" fill-opacity="0.021"/><polygon points="91.20,406.00 208.76,244.20 234.63,266.61 256.29,293.11 273.13,322.92 284.63,355.16 290.47,388.88 290.47,423.12 284.63,456.84 273.13,489.08 256.29,518.89 234.63,545.39 208.76,567.80" fill="#808080" fill-opacity="0.022"/><polygon points="91.20,406.00 214.33,248.40 238.55,270.77 258.76,296.81 274.42,325.81 285.10,357.00 290.52,389.52 290.52,422.48 285.10,455.00 274.42,486.19 258.76,515.19 238.55,541.23 214.33,563.60" fill="#808080" fill-opacity="0.022"/><polygon points="91.20,406.00 219.76,252.79 242.35,275.03 261.15,300.55 275.67,328.73 285.56,358.85 290.57,390.15 290.57,421.85 285.56,453.15 275.67,483.27 261.15,511.45 242.35,536.97 219.76,559.21" fill="#808080" fill-opacity="0.038"/><polygon points="91.20,406.00 225.03,257.37 247.94,281.77 266.46,309.65 280.08,340.23 288.40,372.65 291.20,406.00 288.40,439.35 280.08,471.77 266.46,502.35 247.94,530.23 225.03,554.63" fill="#808080" fill-opacity="0.056"/><polygon points="91.20,406.00 230.13,262.13 251.35,286.20 268.44,313.34 280.98,342.87 288.63,374.02 291.20,406.00 288.63,437.98 280.98,469.13 268.44,498.66 251.35,525.80 230.13,549.87" fill="#808080" fill-opacity="0.059"/><polygon points="91.20,406.00 235.07,267.07 256.57,293.52 273.27,323.24 284.68,355.36 290.47,388.96 290.47,423.04 284.68,456.64 273.27,488.76 256.57,518.48 235.07,544.93" fill="#808080" fill-opacity="0.063"/><polygon points="91.20,406.00 239.83,272.17 259.56,298.05 274.84,326.78 285.26,357.62 290.54,389.73 290.54,422.27 285.26,454.38 274.84,485.22 259.56,513.95 239.83,539.83" fill="#808080" fill-opacity="0.067"/><polygon points="91.20,406.00 244.41,277.44 262.43,302.66 276.34,330.36 285.81,359.88 290.60,390.50 290.60,421.50 285.81,452.12 276.34,481.64 262.43,509.34 244.41,534.56" fill="#808080" fill-opacity="0.075"/><polygon points="91.20,406.00 248.80,282.87 266.96,310.57 280.30,340.89 288.46,372.99 291.20,406.00 288.46,439.01 280.30,471.11 266.96,501.43 248.80,529.13" fill="#808080" fill-opacity="0.085"/><polygon points="91.20,406.00 253.00,288.44 269.40,315.20 281.41,344.20 288.74,374.71 291.20,406.00 288.74,437.29 281.41,467.80 269.40,496.80 253.00,523.56" fill="#808080" fill-opacity="0.093"/><polygon points="91.20,406.00 257.01,294.16 273.50,323.74 284.77,355.68 290.48,389.07 290.48,422.93 284.77,456.32 273.50,488.26 257.01,517.84" fill="#808080" fill-opacity="0.102"/><polygon points="91.20,406.00 260.81,300.02 275.50,328.31 285.50,358.58 290.56,390.06 290.56,421.94 285.50,453.42 275.50,483.69 260.81,511.98" fill="#808080" fill-opacity="0.114"/><polygon points="91.20,406.00 264.41,306.00 277.37,332.93 286.19,361.50 290.64,391.05 290.64,420.95 286.19,450.50 277.37,479.07 264.41,506.00" fill="#808080" fill-opacity="0.113"/><polygon points="91.20,406.00 267.79,312.11 280.68,341.99 288.55,373.56 291.20,406.00 288.55,438.44 280.68,470.01 267.79,499.89" fill="#808080" fill-opacity="0.111"/><polygon points="91.20,406.00 270.96,318.33 282.12,346.41 288.92,375.86 291.20,406.00 288.92,436.14 282.12,465.59 270.96,493.67" fill="#808080" fill-opacity="0.125"/><polygon points="91.20,406.00 273.91,324.65 284.92,356.26 290.50,389.26 290.50,422.74 284.92,455.74 273.91,487.35" fill="#808080" fill-opacity="0.143"/><polygon points="91.20,406.00 276.64,331.08 285.92,360.33 290.61,390.66 290.61,421.34 285.92,451.67 276.64,480.92" fill="#808080" fill-opacity="0.167"/><polygon points="91.20,406.00 279.14,337.60 286.83,364.42 290.71,392.05 290.71,419.95 286.83,447.58 279.14,474.40" fill="#808080" fill-opacity="0.145"/><polygon points="91.20,406.00 281.41,344.20 288.74,374.71 291.20,406.00 288.74,437.29 281.41,467.80" fill="#808080" fill-opacity="0.105"/><polygon points="91.20,406.00 283.45,350.87 289.25,378.17 291.20,406.00 289.25,433.83 283.45,461.13" fill="#808080" fill-opacity="0.118"/><polygon points="91.20,406.00 285.26,357.62 290.54,389.73 290.54,422.27 285.26,454.38" fill="#808080" fill-opacity="0.133"/><polygon points="91.20,406.00 286.83,364.42 290.71,392.05 290.71,419.95 286.83,447.58" fill="#808080" fill-opacity="0.154"/><polygon points="91.20,406.00 288.16,371.27 290.86,394.37 290.86,417.63 288.16,440.73" fill="#808080" fill-opacity="0.121"/><polygon points="91.20,406.00 289.25,378.17 291.20,406.00 289.25,433.83" fill="#808080" fill-opacity="0.069"/><polygon points="91.20,406.00 290.10,385.09 291.20,406.00 290.10,426.91" fill="#808080" fill-opacity="0.074"/><polygon points="91.20,406.00 290.71,392.05 290.71,419.95" fill="#808080" fill-opacity="0.080"/><polygon points="91.20,406.00 291.08,399.02 291.08,412.98" fill="#808080" fill-opacity="0.087"/></g><g mask="url(#m3)"><g filter="url(#cm3h)"><rect x="15.5" y="337.0" width="150.0" height="139.5" fill="url(#gx3)"/><rect x="15.5" y="337.0" width="150.0" height="139.5" fill="url(#gr3c)" opacity="0.5"/></g></g><g filter="url(#cm4)"><rect x="212.5" y="337.0" width="150.0" height="139.0" fill="url(#gx4)"/><rect x="212.5" y="337.0" width="150.0" height="139.0" fill="url(#gr4c)" opacity="0.13"/></g><path d="M91.30 213.50 L128.30 248.30 L91.30 283.10 L54.30 248.30 Z" fill="#fff" stroke="#8a7a7a" stroke-width="0.5"/><path d="M287.60 213.30 L323.60 248.50 L287.60 283.70 L251.60 248.50 Z" fill="#fff" stroke="#222" stroke-width="0.9"/><ellipse cx="91.2" cy="406.0" rx="27.6" ry="29.0" fill="#fff" stroke="#8a7a7a" stroke-width="0.5"/><ellipse cx="287.8" cy="406.2" rx="27.8" ry="29.4" fill="#fff" stroke="#222" stroke-width="0.9"/><rect x="125.4" y="187.4" width="9" height="23" fill="#fff" fill-opacity="0.5"/><path d="M131.00 194.00 L128.60 203.60 M130.00 197.60 L131.60 202.40" stroke="#141420" stroke-width="1.1" fill="none"/><rect x="320.9" y="188.2" width="9" height="23" fill="#fff" fill-opacity="0.5"/><path d="M326.50 194.80 L324.10 204.40 M325.50 198.40 L327.10 203.20" stroke="#141420" stroke-width="1.1" fill="none"/><rect x="126.2" y="347.3" width="9" height="23" fill="#fff" fill-opacity="0.5"/><path d="M131.80 353.90 L129.40 363.50 M130.80 357.50 L132.40 362.30" stroke="#141420" stroke-width="1.1" fill="none"/><rect x="322.4" y="346.8" width="9" height="23" fill="#fff" fill-opacity="0.5"/><path d="M328.00 353.40 L325.60 363.00 M327.00 357.00 L328.60 361.80" stroke="#141420" stroke-width="1.1" fill="none"/><circle cx="90.6" cy="248.9" r="62.3" fill="none" stroke="#0a0a14" stroke-width="1.45" stroke-dasharray="2.1 1.4"/><circle cx="286.0" cy="248.6" r="62.6" fill="none" stroke="#0a0a14" stroke-width="1.45" stroke-dasharray="2.1 1.4"/><circle cx="92.5" cy="408.2" r="64.3" fill="none" stroke="#0a0a14" stroke-width="1.45" stroke-dasharray="2.1 1.4"/><circle cx="287.4" cy="408.4" r="64.4" fill="none" stroke="#0a0a14" stroke-width="1.45" stroke-dasharray="2.1 1.4"/><text class="s" x="0.5" y="17.6" font-size="14" fill="#141414">(a)</text><rect x="14.6" y="22" width="21.9" height="4.6" fill="#47a7c9"/><rect x="14.6" y="38.6" width="21.9" height="4.6" fill="#f9c7a2"/><text class="s" x="43.2" y="28" font-size="14" fill="#141414">PCM</text><text class="s" x="43.2" y="45.8" font-size="14" fill="#141414">NZIM</text><path d="M19.5 122.5 V100 M19.5 122.5 H41" stroke="#000" stroke-width="1.2" fill="none"/><path d="M19.5 96.5 L17 102 L22 102 Z M44.5 122.5 L39 120 L39 125 Z" fill="#000"/><text class="s" x="16.3" y="92.4" font-size="14" font-style="italic" fill="#141414">y</text><text class="s" x="46.5" y="125.2" font-size="14" font-style="italic" fill="#141414">x</text><path d="M176.80 0.50 L242.60 66.30 L176.80 132.10 L111.00 66.30 Z" fill="#47a7c9"/><path d="M176.80 12.90 L230.20 66.30 L176.80 119.70 L123.40 66.30 Z" fill="#f9c7a2"/><path d="M176.80 26.00 L217.10 66.30 L176.80 106.60 L136.50 66.30 Z" fill="#7a5ca6"/><text class="s" x="175.6" y="71.6" font-size="14.3" text-anchor="middle" fill="#1a1030">obstacle</text><path d="M158.06 38.19 L173.52 22.73" stroke="#e11419" stroke-width="1.1" stroke-dasharray="3 1.9" fill="none"/><path d="M173.52 22.73 L172.18 26.48 L169.77 24.07 Z" fill="#e11419"/><path d="M153.38 42.88 L135.57 60.68" stroke="#e11419" stroke-width="1.1" stroke-dasharray="3 1.9" fill="none"/><path d="M135.57 60.68 L136.92 56.93 L139.32 59.33 Z" fill="#e11419"/><path d="M180.08 22.73 L195.07 37.72" stroke="#e11419" stroke-width="1.1" stroke-dasharray="3 1.9" fill="none"/><path d="M195.07 37.72 L191.32 36.38 L193.73 33.97 Z" fill="#e11419"/><path d="M220.37 63.02 L203.97 46.62" stroke="#e11419" stroke-width="1.1" stroke-dasharray="3 1.9" fill="none"/><path d="M203.97 46.62 L207.72 47.97 L205.32 50.37 Z" fill="#e11419"/><path d="M151.97 88.32 L135.10 71.45" stroke="#e11419" stroke-width="1.1" stroke-dasharray="3 1.9" fill="none"/><path d="M135.10 71.45 L138.85 72.80 L136.45 75.20 Z" fill="#e11419"/><path d="M157.12 93.47 L170.71 107.06" stroke="#e11419" stroke-width="1.1" stroke-dasharray="3 1.9" fill="none"/><path d="M170.71 107.06 L166.96 105.72 L169.37 103.31 Z" fill="#e11419"/><path d="M180.08 109.87 L196.48 93.47" stroke="#e11419" stroke-width="1.1" stroke-dasharray="3 1.9" fill="none"/><path d="M196.48 93.47 L195.13 97.22 L192.73 94.82 Z" fill="#e11419"/><path d="M220.37 69.58 L203.04 86.91" stroke="#e11419" stroke-width="1.1" stroke-dasharray="3 1.9" fill="none"/><path d="M203.04 86.91 L204.38 83.17 L206.78 85.57 Z" fill="#e11419"/><path d="M144.20 32.60 L150.00 38.40" stroke="#7a3040" stroke-width="0.9"/><path d="M150.00 38.40 L146.75 37.41 L149.01 35.15 Z" fill="#c8142a"/><path d="M144.60 99.90 L150.60 93.90" stroke="#7a3040" stroke-width="0.9"/><path d="M150.60 93.90 L149.61 97.15 L147.35 94.89 Z" fill="#c8142a"/><path d="M201.40 37.40 L207.40 31.40" stroke="#7a3040" stroke-width="0.9"/><path d="M207.40 31.40 L206.41 34.65 L204.15 32.39 Z" fill="#c8142a"/><path d="M202.40 94.40 L208.40 100.40" stroke="#7a3040" stroke-width="0.9"/><path d="M208.40 100.40 L205.15 99.41 L207.41 97.15 Z" fill="#c8142a"/><circle cx="408.6" cy="63.6" r="53.2" fill="#47a7c9"/><circle cx="408.6" cy="63.6" r="43.9" fill="#f9c7a2"/><circle cx="408.6" cy="63.6" r="35.3" fill="#7a5ca6"/><text class="s" x="407.5" y="70.2" font-size="14.3" text-anchor="middle" fill="#1a1030">obstacle</text><path d="M384.22 32.39 A39.60 39.60 0 0 1 405.15 24.15" stroke="#e11419" stroke-width="1.0" stroke-dasharray="3 1.9" fill="none"/><path d="M405.15 24.15 L402.09 25.92 L401.83 22.94 Z" fill="#e11419"/><path d="M412.05 24.15 A39.60 39.60 0 0 1 432.98 32.39" stroke="#e11419" stroke-width="1.0" stroke-dasharray="3 1.9" fill="none"/><path d="M432.98 32.39 L429.54 31.61 L431.38 29.24 Z" fill="#e11419"/><path d="M377.39 39.22 A39.60 39.60 0 0 0 369.10 60.84" stroke="#e11419" stroke-width="1.0" stroke-dasharray="3 1.9" fill="none"/><path d="M369.10 60.84 L367.82 57.54 L370.82 57.75 Z" fill="#e11419"/><path d="M377.39 87.98 A39.60 39.60 0 0 1 369.10 66.36" stroke="#e11419" stroke-width="1.0" stroke-dasharray="3 1.9" fill="none"/><path d="M369.10 66.36 L370.82 69.45 L367.82 69.66 Z" fill="#e11419"/><path d="M384.22 94.81 A39.60 39.60 0 0 0 405.15 103.05" stroke="#e11419" stroke-width="1.0" stroke-dasharray="3 1.9" fill="none"/><path d="M405.15 103.05 L401.83 104.26 L402.09 101.28 Z" fill="#e11419"/><path d="M412.05 103.05 A39.60 39.60 0 0 0 432.98 94.81" stroke="#e11419" stroke-width="1.0" stroke-dasharray="3 1.9" fill="none"/><path d="M432.98 94.81 L431.38 97.96 L429.54 95.59 Z" fill="#e11419"/><path d="M447.81 58.09 A39.60 39.60 0 0 0 440.64 40.32" stroke="#e11419" stroke-width="1.0" stroke-dasharray="3 1.9" fill="none"/><path d="M440.64 40.32 L443.73 42.03 L441.30 43.79 Z" fill="#e11419"/><path d="M447.81 69.11 A39.60 39.60 0 0 1 440.64 86.88" stroke="#e11419" stroke-width="1.0" stroke-dasharray="3 1.9" fill="none"/><path d="M440.64 86.88 L441.30 83.41 L443.73 85.17 Z" fill="#e11419"/><path d="M370.66 26.31 L376.79 32.34" stroke="#7a3040" stroke-width="0.9"/><path d="M376.79 32.34 L373.53 31.38 L375.77 29.10 Z" fill="#c8142a"/><path d="M370.66 100.89 L376.79 94.86" stroke="#7a3040" stroke-width="0.9"/><path d="M376.79 94.86 L375.77 98.10 L373.53 95.82 Z" fill="#c8142a"/><path d="M440.41 32.34 L446.54 26.31" stroke="#7a3040" stroke-width="0.9"/><path d="M446.54 26.31 L445.53 29.56 L443.28 27.27 Z" fill="#c8142a"/><path d="M440.41 94.86 L446.54 100.89" stroke="#7a3040" stroke-width="0.9"/><path d="M446.54 100.89 L443.28 99.93 L445.53 97.64 Z" fill="#c8142a"/><path d="M90.6 31.2 H137.4" stroke="#e11419" stroke-width="1.6"/><path d="M142.8 31.2 L136.4 28.4 L136.4 34.0 Z" fill="#e11419"/><path d="M90.6 100.3 H137.4" stroke="#e11419" stroke-width="1.6"/><path d="M142.8 100.3 L136.4 97.5 L136.4 103.1 Z" fill="#e11419"/><path d="M209.4 31.2 H256.6" stroke="#e11419" stroke-width="1.6"/><path d="M262.0 31.2 L255.6 28.4 L255.6 34.0 Z" fill="#e11419"/><path d="M210.4 100.3 H256.6" stroke="#e11419" stroke-width="1.6"/><path d="M262.0 100.3 L255.6 97.5 L255.6 103.1 Z" fill="#e11419"/><path d="M314.8 26.3 H360.6" stroke="#e11419" stroke-width="1.6"/><path d="M366.0 26.3 L359.6 23.5 L359.6 29.1 Z" fill="#e11419"/><path d="M314.8 106.0 H360.6" stroke="#e11419" stroke-width="1.6"/><path d="M366.0 106.0 L359.6 103.2 L359.6 108.8 Z" fill="#e11419"/><path d="M449.4 26.3 H496.0" stroke="#e11419" stroke-width="1.6"/><path d="M501.4 26.3 L495.0 23.5 L495.0 29.1 Z" fill="#e11419"/><path d="M449.4 106.0 H496.0" stroke="#e11419" stroke-width="1.6"/><path d="M501.4 106.0 L495.0 103.2 L495.0 108.8 Z" fill="#e11419"/><text class="s" x="113.6" y="150.7" font-size="14" fill="#141414">Normalized pressure (a.u.)</text><text class="s" x="459.4" y="151.2" font-size="14" fill="#141414">abs (pressure) (Pa)</text><text class="s" x="0.5" y="172" font-size="14" fill="#141414">(b)</text><text class="s" x="0.3" y="337.6" font-size="14" fill="#141414">(c)</text><text class="s" x="67.7" y="170.8" font-size="14" fill="#141414">w/o HM</text><text class="s" x="267.7" y="170.6" font-size="14" fill="#141414">w/ HM</text><rect x="184.6" y="186.0" width="6.4" height="126.3" fill="url(#gcb)" stroke="#666" stroke-width="0.5"/><path d="M184.6 201.79 h1.2 M191 201.79 h-1.2" stroke="#555" stroke-width="0.55"/><path d="M184.6 217.57 h1.2 M191 217.57 h-1.2" stroke="#555" stroke-width="0.55"/><path d="M184.6 233.36 h1.2 M191 233.36 h-1.2" stroke="#555" stroke-width="0.55"/><path d="M184.6 249.15 h1.2 M191 249.15 h-1.2" stroke="#555" stroke-width="0.55"/><path d="M184.6 264.94 h1.2 M191 264.94 h-1.2" stroke="#555" stroke-width="0.55"/><path d="M184.6 280.73 h1.2 M191 280.73 h-1.2" stroke="#555" stroke-width="0.55"/><path d="M184.6 296.51 h1.2 M191 296.51 h-1.2" stroke="#555" stroke-width="0.55"/><text class="s" x="187.8" y="182.3" font-size="14" text-anchor="middle" fill="#141414">Max</text><text class="s" x="187.8" y="325.8" font-size="14" text-anchor="middle" fill="#141414">Min</text><rect x="184.6" y="347.5" width="6.4" height="125.7" fill="url(#gcb)" stroke="#666" stroke-width="0.5"/><path d="M184.6 363.21 h1.2 M191 363.21 h-1.2" stroke="#555" stroke-width="0.55"/><path d="M184.6 378.93 h1.2 M191 378.93 h-1.2" stroke="#555" stroke-width="0.55"/><path d="M184.6 394.64 h1.2 M191 394.64 h-1.2" stroke="#555" stroke-width="0.55"/><path d="M184.6 410.35 h1.2 M191 410.35 h-1.2" stroke="#555" stroke-width="0.55"/><path d="M184.6 426.06 h1.2 M191 426.06 h-1.2" stroke="#555" stroke-width="0.55"/><path d="M184.6 441.77 h1.2 M191 441.77 h-1.2" stroke="#555" stroke-width="0.55"/><path d="M184.6 457.49 h1.2 M191 457.49 h-1.2" stroke="#555" stroke-width="0.55"/><text class="s" x="187.8" y="343.3" font-size="14" text-anchor="middle" fill="#141414">Max</text><text class="s" x="187.8" y="487.0" font-size="14" text-anchor="middle" fill="#141414">Min</text><circle cx="495.1" cy="248.3" r="15.8" fill="none" stroke="#6a6a6a" stroke-width="0.95" stroke-dasharray="3.6 2.4"/><circle cx="495.1" cy="248.3" r="31.6" fill="none" stroke="#6a6a6a" stroke-width="0.95" stroke-dasharray="3.6 2.4"/><circle cx="495.1" cy="248.3" r="47.3" fill="none" stroke="#6a6a6a" stroke-width="0.95" stroke-dasharray="3.6 2.4"/><path d="M495.1 248.3 L558.2 248.3" stroke="#6a6a6a" stroke-width="0.95" stroke-dasharray="3.6 2.4"/><path d="M495.1 248.3 L539.7 203.7" stroke="#6a6a6a" stroke-width="0.95" stroke-dasharray="3.6 2.4"/><path d="M495.1 248.3 L495.1 185.2" stroke="#6a6a6a" stroke-width="0.95" stroke-dasharray="3.6 2.4"/><path d="M495.1 248.3 L450.5 203.7" stroke="#6a6a6a" stroke-width="0.95" stroke-dasharray="3.6 2.4"/><path d="M495.1 248.3 L432.0 248.3" stroke="#6a6a6a" stroke-width="0.95" stroke-dasharray="3.6 2.4"/><path d="M495.1 248.3 L450.5 292.9" stroke="#6a6a6a" stroke-width="0.95" stroke-dasharray="3.6 2.4"/><path d="M495.1 248.3 L495.1 311.4" stroke="#6a6a6a" stroke-width="0.95" stroke-dasharray="3.6 2.4"/><path d="M495.1 248.3 L539.7 292.9" stroke="#6a6a6a" stroke-width="0.95" stroke-dasharray="3.6 2.4"/><circle cx="495.1" cy="248.3" r="63.1" fill="none" stroke="#111" stroke-width="1.3"/><path d="M510.88 246.90 L510.88 249.70 M526.65 246.90 L526.65 249.70 M542.43 246.90 L542.43 249.70 M558.20 248.30 L555.60 248.30 M479.33 249.70 L479.33 246.90 M463.55 249.70 L463.55 246.90 M447.78 249.70 L447.78 246.90 M432.00 248.30 L434.60 248.30 M496.50 264.07 L493.70 264.07 M496.50 279.85 L493.70 279.85 M496.50 295.62 L493.70 295.62 M495.10 311.40 L495.10 308.80 M493.70 232.53 L496.50 232.53 M493.70 216.75 L496.50 216.75 M493.70 200.98 L496.50 200.98 M495.10 185.20 L495.10 187.80" stroke="#555" stroke-width="0.8" fill="none"/><text class="a" x="494.8" y="180.4" font-size="10.5" text-anchor="middle" fill="#1a1a1a">90</text><text class="a" x="494.9" y="323.6" font-size="10.5" text-anchor="middle" fill="#1a1a1a">270</text><text class="a" x="428.8" y="251.7" font-size="10.5" text-anchor="end" fill="#1a1a1a">180</text><text class="a" x="560.6" y="252.4" font-size="10.5" text-anchor="start" fill="#1a1a1a">0</text><text class="a" x="448.7" y="199.6" font-size="10.5" text-anchor="end" fill="#1a1a1a">135</text><text class="a" x="541.4" y="199.6" font-size="10.5" text-anchor="start" fill="#1a1a1a">45</text><text class="a" x="448.7" y="304.7" font-size="10.5" text-anchor="end" fill="#1a1a1a">225</text><text class="a" x="541.4" y="304.7" font-size="10.5" text-anchor="start" fill="#1a1a1a">315</text><path d="M397.4 185.6 V248.4" stroke="#333" stroke-width="1.1"/><path d="M397.4 185.6 H400.0" stroke="#333" stroke-width="1"/><path d="M397.4 201.3 H400.0" stroke="#333" stroke-width="1"/><path d="M397.4 217.0 H400.0" stroke="#333" stroke-width="1"/><path d="M397.4 232.6 H400.0" stroke="#333" stroke-width="1"/><path d="M397.4 248.3 H400.0" stroke="#333" stroke-width="1"/><text class="s" x="402.2" y="189.4" font-size="9.5" fill="#141414">1</text><text class="a" x="401.3" y="251.7" font-size="9" fill="#141414">0</text><circle cx="497.0" cy="405.0" r="15.9" fill="none" stroke="#6a6a6a" stroke-width="0.95" stroke-dasharray="3.6 2.4"/><circle cx="497.0" cy="405.0" r="31.8" fill="none" stroke="#6a6a6a" stroke-width="0.95" stroke-dasharray="3.6 2.4"/><circle cx="497.0" cy="405.0" r="47.7" fill="none" stroke="#6a6a6a" stroke-width="0.95" stroke-dasharray="3.6 2.4"/><path d="M497.0 405.0 L560.6 405.0" stroke="#6a6a6a" stroke-width="0.95" stroke-dasharray="3.6 2.4"/><path d="M497.0 405.0 L542.0 360.0" stroke="#6a6a6a" stroke-width="0.95" stroke-dasharray="3.6 2.4"/><path d="M497.0 405.0 L497.0 341.4" stroke="#6a6a6a" stroke-width="0.95" stroke-dasharray="3.6 2.4"/><path d="M497.0 405.0 L452.0 360.0" stroke="#6a6a6a" stroke-width="0.95" stroke-dasharray="3.6 2.4"/><path d="M497.0 405.0 L433.4 405.0" stroke="#6a6a6a" stroke-width="0.95" stroke-dasharray="3.6 2.4"/><path d="M497.0 405.0 L452.0 450.0" stroke="#6a6a6a" stroke-width="0.95" stroke-dasharray="3.6 2.4"/><path d="M497.0 405.0 L497.0 468.6" stroke="#6a6a6a" stroke-width="0.95" stroke-dasharray="3.6 2.4"/><path d="M497.0 405.0 L542.0 450.0" stroke="#6a6a6a" stroke-width="0.95" stroke-dasharray="3.6 2.4"/><circle cx="497.0" cy="405.0" r="63.6" fill="none" stroke="#111" stroke-width="1.3"/><path d="M512.90 403.60 L512.90 406.40 M528.80 403.60 L528.80 406.40 M544.70 403.60 L544.70 406.40 M560.60 405.00 L558.00 405.00 M481.10 406.40 L481.10 403.60 M465.20 406.40 L465.20 403.60 M449.30 406.40 L449.30 403.60 M433.40 405.00 L436.00 405.00 M498.40 420.90 L495.60 420.90 M498.40 436.80 L495.60 436.80 M498.40 452.70 L495.60 452.70 M497.00 468.60 L497.00 466.00 M495.60 389.10 L498.40 389.10 M495.60 373.20 L498.40 373.20 M495.60 357.30 L498.40 357.30 M497.00 341.40 L497.00 344.00" stroke="#555" stroke-width="0.8" fill="none"/><text class="a" x="496.7" y="336.6" font-size="10.5" text-anchor="middle" fill="#1a1a1a">90</text><text class="a" x="496.7" y="480.9" font-size="10.5" text-anchor="middle" fill="#1a1a1a">270</text><text class="a" x="430.2" y="408.4" font-size="10.5" text-anchor="end" fill="#1a1a1a">180</text><text class="a" x="563.0" y="409.1" font-size="10.5" text-anchor="start" fill="#1a1a1a">0</text><text class="a" x="450.2" y="355.9" font-size="10.5" text-anchor="end" fill="#1a1a1a">135</text><text class="a" x="543.7" y="355.9" font-size="10.5" text-anchor="start" fill="#1a1a1a">45</text><text class="a" x="450.2" y="461.8" font-size="10.5" text-anchor="end" fill="#1a1a1a">225</text><text class="a" x="543.7" y="461.8" font-size="10.5" text-anchor="start" fill="#1a1a1a">315</text><path d="M397.4 342.3 V405.1" stroke="#333" stroke-width="1.1"/><path d="M397.4 342.3 H400.0" stroke="#333" stroke-width="1"/><path d="M397.4 358.0 H400.0" stroke="#333" stroke-width="1"/><path d="M397.4 373.7 H400.0" stroke="#333" stroke-width="1"/><path d="M397.4 389.3 H400.0" stroke="#333" stroke-width="1"/><path d="M397.4 405.0 H400.0" stroke="#333" stroke-width="1"/><text class="s" x="402.2" y="346.1" font-size="9.5" fill="#141414">1</text><text class="a" x="401.3" y="408.4" font-size="9" fill="#141414">0</text><path d="M511.2 316.5 H542.7" stroke="#e0181c" stroke-width="1.5"/><path d="M511.2 330.2 H542.7" stroke="#1a1ad0" stroke-width="1.3" stroke-dasharray="2.6 1.4"/><text class="s" x="561.3" y="321.2" font-size="14" fill="#141414">w HM</text><text class="s" x="561.3" y="334.5" font-size="14" fill="#141414">w/o HM</text><path d="M495.20 247.20 L557.00 247.60" stroke="#1c1ccc" stroke-width="1.20" stroke-dasharray="2.2 1.3" fill="none"/><path d="M495.20 249.40 L556.00 249.10" stroke="#1c1ccc" stroke-width="1.20" stroke-dasharray="2.2 1.3" fill="none"/><path d="M493.70 219.80 L493.70 279.70" stroke="#1c1ccc" stroke-width="1.20" stroke-dasharray="2.2 1.3" fill="none"/><path d="M496.30 221.50 L496.30 278.50" stroke="#1c1ccc" stroke-width="1.20" stroke-dasharray="2.2 1.3" fill="none"/><path d="M495 248.6 H507.5" stroke="#c8102a" stroke-width="2.4"/><polygon points="500.10,248.50 497.04,247.70 497.57,246.03 495.90,246.56 495.10,244.50 494.30,246.56 492.63,246.03 493.16,247.70 491.60,248.50 493.16,249.30 492.63,250.97 494.30,250.44 495.10,252.50 495.90,250.44 497.57,250.97 497.04,249.30" fill="#e3141c"/><rect x="484.50" y="240.40" width="23.30" height="16.00" fill="none" stroke="#d23cbe" stroke-width="1.10" stroke-dasharray="1.5 1.3"/><circle cx="496.3" cy="405" r="6.8" fill="none" stroke="#1c1ccc" stroke-width="1.1" stroke-dasharray="1.8 1.1"/><path d="M497.00 404.10 L545.60 404.30" stroke="#1c1ccc" stroke-width="1.20" stroke-dasharray="2.2 1.3" fill="none"/><path d="M497.00 406.10 L545.00 405.90" stroke="#1c1ccc" stroke-width="1.20" stroke-dasharray="2.2 1.3" fill="none"/><path d="M497.00 405.00 L501.00 402.00" stroke="#1c1ccc" stroke-width="1.00" stroke-dasharray="2.2 1.3" fill="none"/><path d="M497.00 405.00 L502.00 408.00" stroke="#1c1ccc" stroke-width="1.00" stroke-dasharray="2.2 1.3" fill="none"/><path d="M497.00 405.00 L503.00 403.50" stroke="#1c1ccc" stroke-width="1.00" stroke-dasharray="2.2 1.3" fill="none"/><path d="M497.00 405.00 L503.00 406.50" stroke="#1c1ccc" stroke-width="1.00" stroke-dasharray="2.2 1.3" fill="none"/><path d="M496 405.2 H510" stroke="#c8102a" stroke-width="2.2"/><polygon points="501.10,405.10 498.40,404.44 499.05,403.04 497.36,403.47 496.60,402.10 495.84,403.47 494.15,403.04 494.80,404.44 493.10,405.10 494.80,405.76 494.15,407.16 495.84,406.73 496.60,408.10 497.36,406.73 499.05,407.16 498.40,405.76" fill="#e3141c"/><rect x="487.30" y="396.20" width="23.30" height="17.20" fill="none" stroke="#d23cbe" stroke-width="1.10" stroke-dasharray="1.5 1.3"/><path d="M574.50 247.50 L630.50 302.00" stroke="#8a8a8a" stroke-width="1.00" stroke-dasharray="3.2 2.6" fill="none"/><path d="M630.50 246.00 L574.00 302.50" stroke="#8a8a8a" stroke-width="1.00" stroke-dasharray="3.2 2.6" fill="none"/><path d="M572.50 272.60 L654.00 272.60" stroke="#8a8a8a" stroke-width="1.00" stroke-dasharray="3.2 2.6" fill="none"/><path d="M597.20 245.50 L596.90 303.00" stroke="#1c1ccc" stroke-width="1.30" stroke-dasharray="2.2 1.1" fill="none"/><path d="M600.40 245.50 L600.80 303.00" stroke="#1c1ccc" stroke-width="1.30" stroke-dasharray="2.2 1.1" fill="none"/><path d="M603.60 245.50 L604.00 303.00" stroke="#1c1ccc" stroke-width="1.30" stroke-dasharray="2.2 1.1" fill="none"/><path d="M605.60 245.50 L606.00 303.00" stroke="#1c1ccc" stroke-width="1.30" stroke-dasharray="2.2 1.1" fill="none"/><path d="M606.00 267.00 L655.00 267.50" stroke="#1c1ccc" stroke-width="1.20" stroke-dasharray="2.4 1.1" fill="none"/><path d="M606.00 269.30 L655.00 269.80" stroke="#1c1ccc" stroke-width="1.20" stroke-dasharray="2.4 1.1" fill="none"/><path d="M606.00 271.20 L655.00 271.70" stroke="#1c1ccc" stroke-width="1.20" stroke-dasharray="2.4 1.1" fill="none"/><path d="M606.00 274.00 L655.00 273.50" stroke="#1c1ccc" stroke-width="1.20" stroke-dasharray="2.4 1.1" fill="none"/><path d="M606.00 276.20 L655.00 275.70" stroke="#1c1ccc" stroke-width="1.20" stroke-dasharray="2.4 1.1" fill="none"/><path d="M606.00 278.30 L655.00 277.80" stroke="#1c1ccc" stroke-width="1.20" stroke-dasharray="2.4 1.1" fill="none"/><path d="M598 272.6 H645" stroke="#e3141c" stroke-width="2.2"/><polygon points="611.20,272.60 604.59,272.07 608.54,269.64 604.14,271.11 608.31,265.32 603.61,269.59 604.63,258.81 602.20,267.70 599.77,258.81 600.87,269.75 596.41,265.71 600.53,271.32 596.76,270.06 600.15,272.15 591.20,272.60 600.15,273.05 596.76,275.14 600.53,273.88 596.41,279.49 600.87,275.45 599.77,286.39 602.20,277.50 604.63,286.39 603.61,275.61 608.31,279.88 604.14,274.09 608.54,275.56 604.59,273.13" fill="#e3141c"/><rect x="571.20" y="244.50" width="84.00" height="59.20" fill="none" stroke="#d23cbe" stroke-width="1.10" stroke-dasharray="1.5 1.3"/><path d="M577.00 408.50 L632.00 463.00" stroke="#8a8a8a" stroke-width="1.00" stroke-dasharray="3.2 2.6" fill="none"/><path d="M632.00 409.00 L577.00 463.50" stroke="#8a8a8a" stroke-width="1.00" stroke-dasharray="3.2 2.6" fill="none"/><path d="M576.80 436.00 L600.00 436.00" stroke="#8a8a8a" stroke-width="1.00" stroke-dasharray="3.2 2.6" fill="none"/><path d="M604.00 409.00 L604.00 463.50" stroke="#8a8a8a" stroke-width="1.00" stroke-dasharray="3.2 2.6" fill="none"/><circle cx="599.8" cy="435.9" r="27.2" fill="none" stroke="#1c1ccc" stroke-width="1.3" stroke-dasharray="2.2 1.4"/><path d="M606.00 432.50 L624.10 418.50" stroke="#1c1ccc" stroke-width="1.10" stroke-dasharray="1.6 1.0" fill="none"/><path d="M606.00 433.00 L623.80 421.00" stroke="#1c1ccc" stroke-width="1.10" stroke-dasharray="1.6 1.0" fill="none"/><path d="M606.00 433.50 L623.50 423.50" stroke="#1c1ccc" stroke-width="1.10" stroke-dasharray="1.6 1.0" fill="none"/><path d="M606.00 434.00 L623.20 426.00" stroke="#1c1ccc" stroke-width="1.10" stroke-dasharray="1.6 1.0" fill="none"/><path d="M606.00 434.50 L622.90 428.50" stroke="#1c1ccc" stroke-width="1.10" stroke-dasharray="1.6 1.0" fill="none"/><path d="M606.00 435.00 L622.60 431.00" stroke="#1c1ccc" stroke-width="1.10" stroke-dasharray="1.6 1.0" fill="none"/><path d="M606.00 435.50 L622.30 433.50" stroke="#1c1ccc" stroke-width="1.10" stroke-dasharray="1.6 1.0" fill="none"/><path d="M606.00 436.00 L622.00 436.00" stroke="#1c1ccc" stroke-width="1.10" stroke-dasharray="1.6 1.0" fill="none"/><path d="M606.00 436.50 L622.30 438.50" stroke="#1c1ccc" stroke-width="1.10" stroke-dasharray="1.6 1.0" fill="none"/><path d="M606.00 437.00 L622.60 441.00" stroke="#1c1ccc" stroke-width="1.10" stroke-dasharray="1.6 1.0" fill="none"/><path d="M606.00 437.50 L622.90 443.50" stroke="#1c1ccc" stroke-width="1.10" stroke-dasharray="1.6 1.0" fill="none"/><path d="M606.00 438.00 L623.20 446.00" stroke="#1c1ccc" stroke-width="1.10" stroke-dasharray="1.6 1.0" fill="none"/><path d="M606.00 438.50 L623.50 448.50" stroke="#1c1ccc" stroke-width="1.10" stroke-dasharray="1.6 1.0" fill="none"/><path d="M606.00 439.00 L623.80 451.00" stroke="#1c1ccc" stroke-width="1.10" stroke-dasharray="1.6 1.0" fill="none"/><path d="M606.00 439.50 L624.10 453.50" stroke="#1c1ccc" stroke-width="1.10" stroke-dasharray="1.6 1.0" fill="none"/><path d="M608.00 422.00 L613.00 420.00" stroke="#1c1ccc" stroke-width="1.20" stroke-dasharray="1.4 0.9" fill="none"/><path d="M608.00 424.80 L613.00 423.20" stroke="#1c1ccc" stroke-width="1.20" stroke-dasharray="1.4 0.9" fill="none"/><path d="M608.00 427.60 L613.00 426.40" stroke="#1c1ccc" stroke-width="1.20" stroke-dasharray="1.4 0.9" fill="none"/><path d="M608.00 430.40 L613.00 429.60" stroke="#1c1ccc" stroke-width="1.20" stroke-dasharray="1.4 0.9" fill="none"/><path d="M608.00 433.20 L613.00 432.80" stroke="#1c1ccc" stroke-width="1.20" stroke-dasharray="1.4 0.9" fill="none"/><path d="M608.00 436.00 L613.00 436.00" stroke="#1c1ccc" stroke-width="1.20" stroke-dasharray="1.4 0.9" fill="none"/><path d="M608.00 438.80 L613.00 439.20" stroke="#1c1ccc" stroke-width="1.20" stroke-dasharray="1.4 0.9" fill="none"/><path d="M608.00 441.60 L613.00 442.40" stroke="#1c1ccc" stroke-width="1.20" stroke-dasharray="1.4 0.9" fill="none"/><path d="M608.00 444.40 L613.00 445.60" stroke="#1c1ccc" stroke-width="1.20" stroke-dasharray="1.4 0.9" fill="none"/><path d="M608.00 447.20 L613.00 448.80" stroke="#1c1ccc" stroke-width="1.20" stroke-dasharray="1.4 0.9" fill="none"/><path d="M608.00 450.00 L613.00 452.00" stroke="#1c1ccc" stroke-width="1.20" stroke-dasharray="1.4 0.9" fill="none"/><path d="M618.00 431.50 L655.00 431.50" stroke="#1c1ccc" stroke-width="1.20" stroke-dasharray="2.4 1.1" fill="none"/><path d="M618.00 433.50 L655.00 433.50" stroke="#1c1ccc" stroke-width="1.20" stroke-dasharray="2.4 1.1" fill="none"/><path d="M618.00 435.30 L655.00 435.30" stroke="#1c1ccc" stroke-width="1.20" stroke-dasharray="2.4 1.1" fill="none"/><path d="M618.00 437.20 L655.00 437.20" stroke="#1c1ccc" stroke-width="1.20" stroke-dasharray="2.4 1.1" fill="none"/><path d="M618.00 439.20 L655.00 439.20" stroke="#1c1ccc" stroke-width="1.20" stroke-dasharray="2.4 1.1" fill="none"/><path d="M618.00 441.20 L655.00 441.20" stroke="#1c1ccc" stroke-width="1.20" stroke-dasharray="2.4 1.1" fill="none"/><path d="M584.7 436 H655" stroke="#e3141c" stroke-width="1.6"/><path d="M606 436 H655" stroke="#f06070" stroke-width="2.4"/><polygon points="607.20,435.90 602.89,435.45 605.53,433.40 602.44,434.66 605.70,428.11 602.28,432.94 603.54,422.61 601.20,431.17 598.86,422.61 600.12,432.94 596.70,428.11 599.96,434.66 596.87,433.40 599.51,435.45 595.20,435.90 599.51,436.35 596.87,438.40 599.96,437.14 596.70,443.69 600.12,438.86 598.86,449.19 601.20,440.62 603.54,449.19 602.28,438.86 605.70,443.69 602.44,437.14 605.53,438.40 602.89,436.35" fill="#e3141c"/><rect x="571.50" y="406.50" width="83.80" height="59.50" fill="none" stroke="#d23cbe" stroke-width="1.10" stroke-dasharray="1.5 1.3"/></svg>
</body></html>
